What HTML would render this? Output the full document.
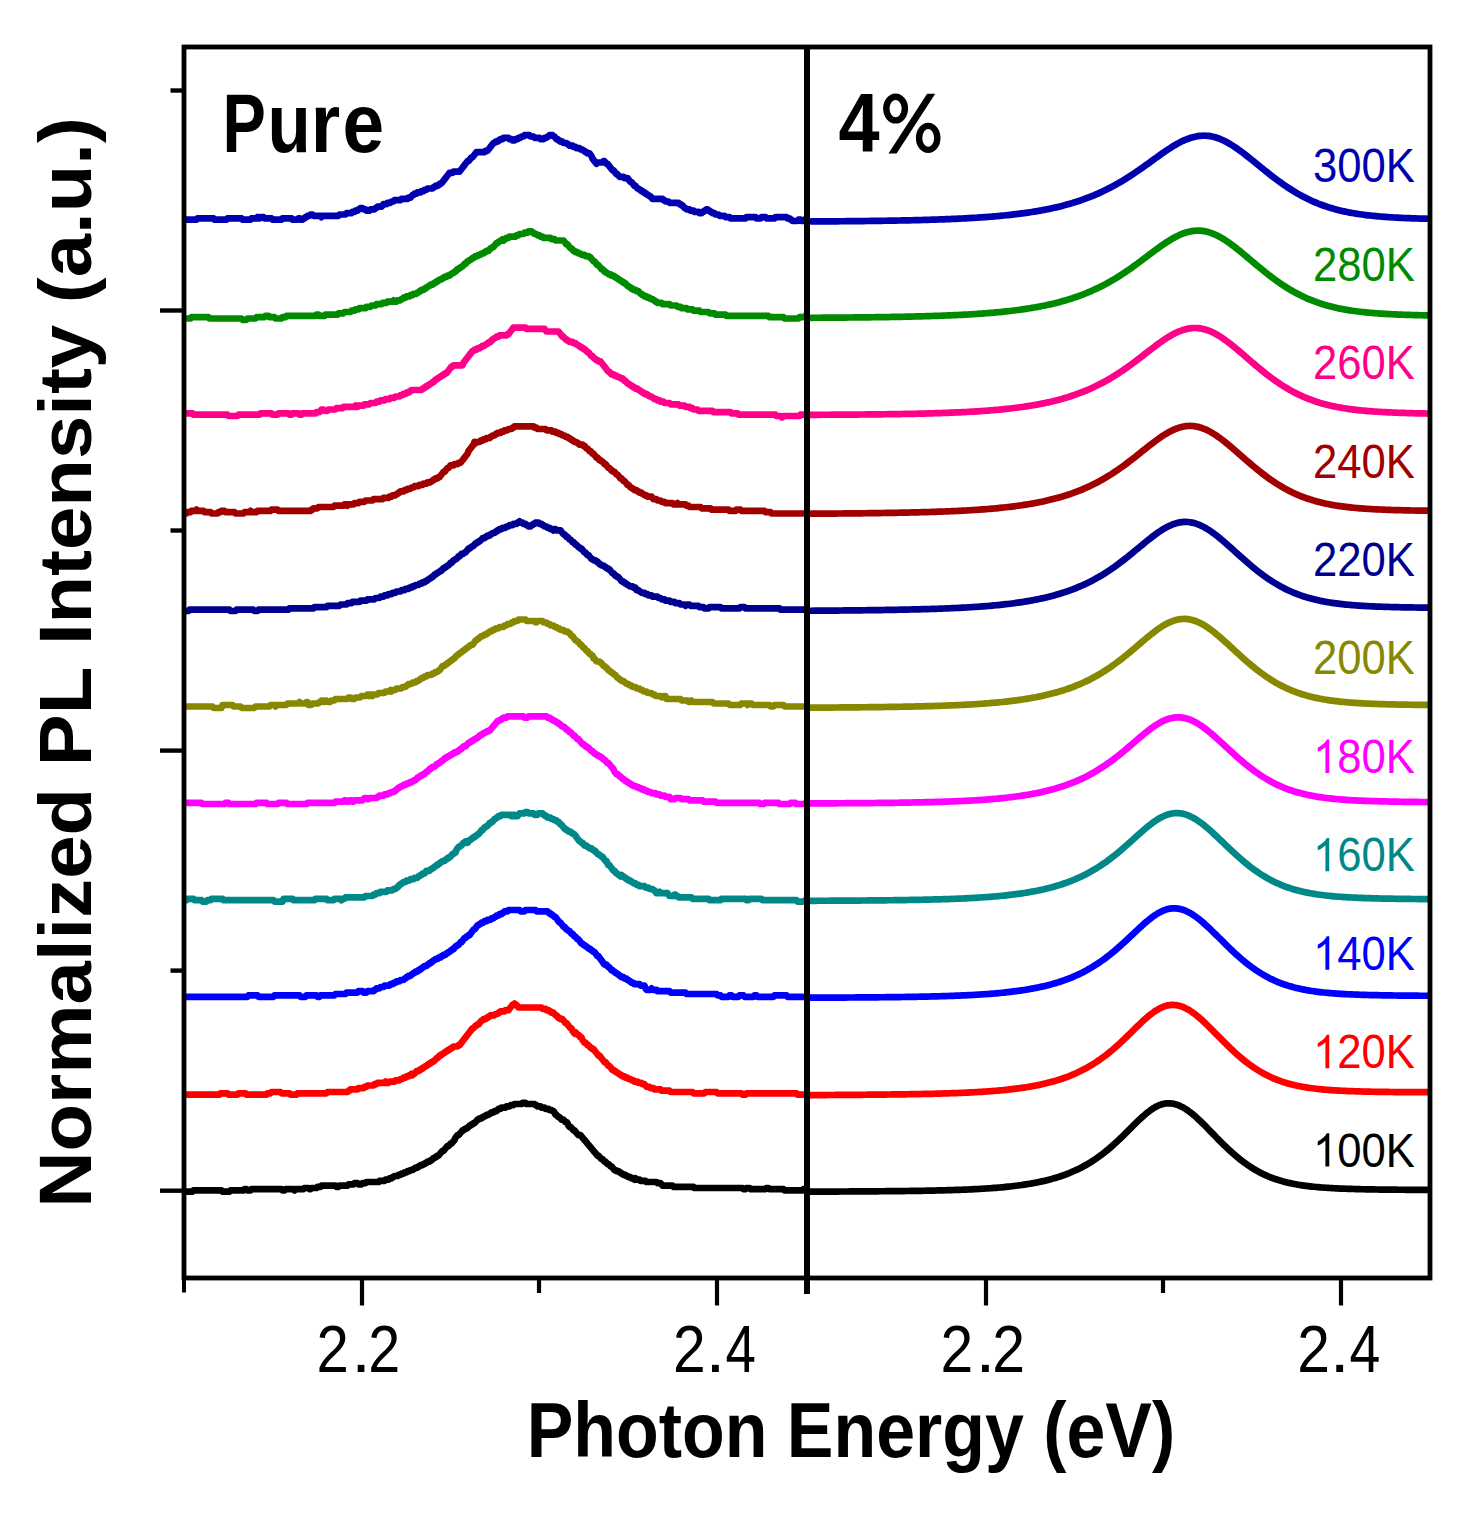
<!DOCTYPE html><html><head><meta charset="utf-8"><style>html,body{margin:0;padding:0;background:#fff;width:1472px;height:1516px;overflow:hidden}svg{display:block;font-kerning:none}text{font-family:"Liberation Sans",sans-serif}</style></head><body><div id="w"><svg width="1472" height="1516" viewBox="0 0 1472 1516"><rect width="1472" height="1516" fill="#fff"/><path d="M184.0,219.70L196.5,219.70L197.5,218.40L213.5,218.40L214.5,219.70L226.5,219.70L227.5,218.40L241.5,218.40L242.5,219.70L250.5,219.70L251.5,218.40L256.5,218.40L257.5,217.10L257.5,217.10L258.5,218.40L259.5,218.40L260.5,217.10L263.5,217.10L264.5,218.40L271.5,218.40L272.5,219.70L281.5,219.70L282.5,218.40L291.5,218.40L292.5,219.70L297.5,219.70L298.5,218.40L299.5,218.40L300.5,219.70L302.5,219.70L303.5,218.40L304.5,218.40L305.5,217.10L306.5,217.10L307.5,215.80L309.5,215.80L310.5,214.50L312.5,214.50L313.5,215.80L320.5,215.80L321.5,217.10L321.5,217.10L322.5,215.80L338.5,215.80L339.5,214.50L345.5,214.50L346.5,213.20L351.5,213.20L352.5,211.90L354.5,211.90L355.5,210.60L357.5,210.60L358.5,209.30L359.5,209.30L360.5,208.00L362.5,208.00L363.5,209.30L365.5,209.30L366.5,210.60L369.5,210.60L370.5,209.30L374.5,209.30L375.5,208.00L376.5,208.00L377.5,206.70L381.5,206.70L382.5,205.40L382.5,205.40L383.5,204.10L386.5,204.10L387.5,202.80L390.5,202.80L391.5,201.50L393.5,201.50L394.5,200.20L400.5,200.20L401.5,198.90L407.5,198.90L408.5,197.60L410.5,197.60L411.5,196.30L411.5,196.30L412.5,195.00L413.5,195.00L414.5,193.70L416.5,193.70L417.5,192.40L420.5,192.40L421.5,191.10L423.5,191.10L424.5,189.80L426.5,189.80L427.5,188.50L432.5,188.50L433.5,187.20L434.5,187.20L435.5,185.90L437.5,185.90L438.5,184.60L439.5,184.60L440.5,183.30L441.5,183.30L442.5,182.00L442.5,182.00L443.5,180.70L443.5,180.70L444.5,179.40L444.5,179.40L445.5,178.10L445.5,178.10L446.5,176.80L446.5,176.80L447.5,175.50L447.5,175.50L448.5,174.20L448.5,174.20L449.5,172.90L452.5,172.90L453.5,171.60L459.5,171.60L460.5,170.30L460.5,170.30L461.5,169.00L461.5,169.00L462.5,167.70L462.5,167.70L463.5,166.40L463.5,166.40L464.5,165.10L464.5,165.10L465.5,163.80L465.5,163.80L466.5,162.50L466.5,162.50L467.5,161.20L468.5,161.20L469.5,159.90L469.5,159.90L470.5,158.60L470.5,158.60L471.5,157.30L472.5,157.30L473.5,156.00L473.5,156.00L474.5,154.70L474.5,154.70L475.5,153.40L475.5,153.40L476.5,152.10L484.5,152.10L485.5,150.80L487.5,150.80L488.5,149.50L488.5,149.50L489.5,148.20L489.5,148.20L490.5,146.90L490.5,146.90L491.5,145.60L491.5,145.60L492.5,144.30L492.5,144.30L493.5,143.00L494.5,143.00L495.5,141.70L497.5,141.70L498.5,140.40L499.5,140.40L500.5,139.10L502.5,139.10L503.5,137.80L508.5,137.80L509.5,139.10L511.5,139.10L512.5,140.40L514.5,140.40L515.5,139.10L517.5,139.10L518.5,137.80L520.5,137.80L521.5,136.50L523.5,136.50L524.5,135.20L529.5,135.20L530.5,136.50L533.5,136.50L534.5,137.80L539.5,137.80L540.5,139.10L543.5,139.10L544.5,137.80L546.5,137.80L547.5,136.50L548.5,136.50L549.5,135.20L552.5,135.20L553.5,136.50L554.5,136.50L555.5,137.80L555.5,137.80L556.5,139.10L557.5,139.10L558.5,140.40L559.5,140.40L560.5,141.70L562.5,141.70L563.5,143.00L566.5,143.00L567.5,144.30L568.5,144.30L569.5,145.60L572.5,145.60L573.5,146.90L575.5,146.90L576.5,148.20L579.5,148.20L580.5,149.50L582.5,149.50L583.5,150.80L584.5,150.80L585.5,152.10L586.5,152.10L587.5,153.40L589.5,153.40L590.5,154.70L590.5,154.70L591.5,156.00L591.5,156.00L592.5,158.60L592.5,158.60L593.5,159.90L593.5,159.90L594.5,161.20L594.5,161.20L595.5,162.50L595.5,162.50L596.5,163.80L596.5,163.80L597.5,162.50L602.5,162.50L603.5,161.20L604.5,161.20L605.5,162.50L605.5,162.50L606.5,163.80L607.5,163.80L608.5,165.10L608.5,165.10L609.5,166.40L609.5,166.40L610.5,167.70L610.5,167.70L611.5,169.00L611.5,169.00L612.5,170.30L613.5,170.30L614.5,171.60L614.5,171.60L615.5,172.90L615.5,172.90L616.5,174.20L617.5,174.20L618.5,175.50L618.5,175.50L619.5,176.80L623.5,176.80L624.5,178.10L627.5,178.10L628.5,179.40L628.5,179.40L629.5,180.70L629.5,180.70L630.5,182.00L631.5,182.00L632.5,183.30L632.5,183.30L633.5,184.60L633.5,184.60L634.5,185.90L635.5,185.90L636.5,187.20L636.5,187.20L637.5,188.50L638.5,188.50L639.5,189.80L640.5,189.80L641.5,191.10L642.5,191.10L643.5,192.40L644.5,192.40L645.5,193.70L646.5,193.70L647.5,195.00L648.5,195.00L649.5,196.30L650.5,196.30L651.5,197.60L651.5,197.60L652.5,198.90L662.5,198.90L663.5,200.20L664.5,200.20L665.5,201.50L668.5,201.50L669.5,202.80L678.5,202.80L679.5,204.10L680.5,204.10L681.5,205.40L682.5,205.40L683.5,206.70L683.5,206.70L684.5,208.00L685.5,208.00L686.5,209.30L689.5,209.30L690.5,210.60L693.5,210.60L694.5,211.90L698.5,211.90L699.5,213.20L701.5,213.20L702.5,211.90L703.5,211.90L704.5,210.60L705.5,210.60L706.5,209.30L707.5,209.30L708.5,210.60L709.5,210.60L710.5,211.90L711.5,211.90L712.5,213.20L714.5,213.20L715.5,214.50L718.5,214.50L719.5,215.80L724.5,215.80L725.5,217.10L729.5,217.10L730.5,218.40L745.5,218.40L746.5,217.10L755.5,217.10L756.5,218.40L760.5,218.40L761.5,217.10L765.5,217.10L766.5,218.40L774.5,218.40L775.5,217.10L786.5,217.10L787.5,218.40L789.5,218.40L790.5,219.70L791.5,219.70L792.5,221.00L797.5,221.00L798.5,219.70L800.5,219.70L801.5,221.00L803.5,221.00L804.5,219.70L806.0,219.70" fill="none" stroke="#0000B0" stroke-width="6.7" stroke-linejoin="round"/><path d="M808.0,221.49 810.0,221.48 812.0,221.47 814.0,221.46 816.0,221.44 818.0,221.43 820.0,221.42 822.0,221.40 824.0,221.39 826.0,221.38 828.0,221.36 830.0,221.35 832.0,221.33 834.0,221.31 836.0,221.30 838.0,221.28 840.0,221.26 842.0,221.25 844.0,221.23 846.0,221.21 848.0,221.19 850.0,221.17 852.0,221.15 854.0,221.13 856.0,221.11 858.0,221.09 860.0,221.07 862.0,221.05 864.0,221.03 866.0,221.00 868.0,220.98 870.0,220.95 872.0,220.93 874.0,220.90 876.0,220.87 878.0,220.85 880.0,220.82 882.0,220.79 884.0,220.76 886.0,220.73 888.0,220.70 890.0,220.66 892.0,220.63 894.0,220.60 896.0,220.56 898.0,220.52 900.0,220.49 902.0,220.45 904.0,220.41 906.0,220.37 908.0,220.32 910.0,220.28 912.0,220.23 914.0,220.19 916.0,220.14 918.0,220.09 920.0,220.04 922.0,219.99 924.0,219.93 926.0,219.88 928.0,219.82 930.0,219.76 932.0,219.70 934.0,219.64 936.0,219.57 938.0,219.50 940.0,219.43 942.0,219.36 944.0,219.29 946.0,219.21 948.0,219.13 950.0,219.05 952.0,218.97 954.0,218.88 956.0,218.79 958.0,218.70 960.0,218.60 962.0,218.51 964.0,218.40 966.0,218.30 968.0,218.19 970.0,218.08 972.0,217.96 974.0,217.84 976.0,217.72 978.0,217.59 980.0,217.46 982.0,217.32 984.0,217.18 986.0,217.04 988.0,216.89 990.0,216.73 992.0,216.57 994.0,216.41 996.0,216.24 998.0,216.06 1000.0,215.88 1002.0,215.69 1004.0,215.49 1006.0,215.29 1008.0,215.08 1010.0,214.87 1012.0,214.65 1014.0,214.42 1016.0,214.18 1018.0,213.93 1020.0,213.68 1022.0,213.42 1024.0,213.15 1026.0,212.87 1028.0,212.58 1030.0,212.28 1032.0,211.97 1034.0,211.65 1036.0,211.32 1038.0,210.98 1040.0,210.63 1042.0,210.26 1044.0,209.89 1046.0,209.50 1048.0,209.10 1050.0,208.68 1052.0,208.26 1054.0,207.81 1056.0,207.36 1058.0,206.89 1060.0,206.40 1062.0,205.90 1064.0,205.38 1066.0,204.84 1068.0,204.29 1070.0,203.71 1072.0,203.13 1074.0,202.52 1076.0,201.89 1078.0,201.24 1080.0,200.57 1082.0,199.89 1084.0,199.18 1086.0,198.44 1088.0,197.69 1090.0,196.91 1092.0,196.11 1094.0,195.29 1096.0,194.44 1098.0,193.57 1100.0,192.67 1102.0,191.75 1104.0,190.80 1106.0,189.82 1108.0,188.82 1110.0,187.80 1112.0,186.74 1114.0,185.66 1116.0,184.56 1118.0,183.42 1120.0,182.26 1122.0,181.08 1124.0,179.86 1126.0,178.63 1128.0,177.36 1130.0,176.08 1132.0,174.77 1134.0,173.44 1136.0,172.09 1138.0,170.72 1140.0,169.33 1142.0,167.93 1144.0,166.51 1146.0,165.08 1148.0,163.65 1150.0,162.20 1152.0,160.76 1154.0,159.31 1156.0,157.86 1158.0,156.43 1160.0,155.00 1162.0,153.59 1164.0,152.20 1166.0,150.83 1168.0,149.49 1170.0,148.19 1172.0,146.92 1174.0,145.70 1176.0,144.52 1178.0,143.40 1180.0,142.34 1182.0,141.34 1184.0,140.40 1186.0,139.54 1188.0,138.76 1190.0,138.06 1192.0,137.44 1194.0,136.92 1196.0,136.48 1198.0,136.14 1200.0,135.89 1202.0,135.74 1204.0,135.68 1206.0,135.73 1208.0,135.88 1210.0,136.14 1212.0,136.51 1214.0,136.97 1216.0,137.54 1218.0,138.20 1220.0,138.96 1222.0,139.81 1224.0,140.74 1226.0,141.75 1228.0,142.84 1230.0,144.00 1232.0,145.23 1234.0,146.51 1236.0,147.86 1238.0,149.25 1240.0,150.69 1242.0,152.17 1244.0,153.69 1246.0,155.24 1248.0,156.81 1250.0,158.40 1252.0,160.00 1254.0,161.62 1256.0,163.25 1258.0,164.88 1260.0,166.51 1262.0,168.13 1264.0,169.75 1266.0,171.35 1268.0,172.95 1270.0,174.52 1272.0,176.08 1274.0,177.61 1276.0,179.12 1278.0,180.61 1280.0,182.07 1282.0,183.50 1284.0,184.90 1286.0,186.27 1288.0,187.61 1290.0,188.91 1292.0,190.18 1294.0,191.42 1296.0,192.62 1298.0,193.78 1300.0,194.91 1302.0,196.00 1304.0,197.06 1306.0,198.08 1308.0,199.07 1310.0,200.02 1312.0,200.93 1314.0,201.82 1316.0,202.66 1318.0,203.48 1320.0,204.26 1322.0,205.01 1324.0,205.73 1326.0,206.42 1328.0,207.08 1330.0,207.70 1332.0,208.31 1334.0,208.88 1336.0,209.43 1338.0,209.95 1340.0,210.45 1342.0,210.92 1344.0,211.37 1346.0,211.80 1348.0,212.21 1350.0,212.59 1352.0,212.96 1354.0,213.31 1356.0,213.64 1358.0,213.95 1360.0,214.25 1362.0,214.53 1364.0,214.80 1366.0,215.06 1368.0,215.30 1370.0,215.52 1372.0,215.74 1374.0,215.94 1376.0,216.14 1378.0,216.32 1380.0,216.49 1382.0,216.66 1384.0,216.81 1386.0,216.96 1388.0,217.10 1390.0,217.23 1392.0,217.35 1394.0,217.47 1396.0,217.59 1398.0,217.69 1400.0,217.79 1402.0,217.89 1404.0,217.98 1406.0,218.07 1408.0,218.15 1410.0,218.22 1412.0,218.30 1414.0,218.37 1416.0,218.44 1418.0,218.50 1420.0,218.56 1422.0,218.62 1424.0,218.67 1426.0,218.72 1428.0,218.77 1430.0,218.82" fill="none" stroke="#0000B0" stroke-width="6.7" stroke-linejoin="round"/><path d="M184.0,318.50L190.5,318.50L191.5,317.20L208.5,317.20L209.5,318.50L241.5,318.50L242.5,319.80L246.5,319.80L247.5,318.50L255.5,318.50L256.5,317.20L264.5,317.20L265.5,315.90L268.5,315.90L269.5,317.20L274.5,317.20L275.5,318.50L281.5,318.50L282.5,317.20L285.5,317.20L286.5,315.90L315.5,315.90L316.5,314.60L318.5,314.60L319.5,315.90L324.5,315.90L325.5,314.60L337.5,314.60L338.5,313.30L343.5,313.30L344.5,312.00L350.5,312.00L351.5,310.70L354.5,310.70L355.5,309.40L358.5,309.40L359.5,308.10L365.5,308.10L366.5,306.80L370.5,306.80L371.5,305.50L375.5,305.50L376.5,304.20L381.5,304.20L382.5,302.90L386.5,302.90L387.5,301.60L392.5,301.60L393.5,300.30L393.5,300.30L394.5,301.60L396.5,301.60L397.5,300.30L400.5,300.30L401.5,299.00L402.5,299.00L403.5,297.70L405.5,297.70L406.5,296.40L409.5,296.40L410.5,295.10L412.5,295.10L413.5,293.80L416.5,293.80L417.5,292.50L418.5,292.50L419.5,291.20L420.5,291.20L421.5,289.90L423.5,289.90L424.5,288.60L425.5,288.60L426.5,287.30L427.5,287.30L428.5,286.00L429.5,286.00L430.5,284.70L432.5,284.70L433.5,283.40L434.5,283.40L435.5,282.10L436.5,282.10L437.5,280.80L438.5,280.80L439.5,279.50L441.5,279.50L442.5,278.20L443.5,278.20L444.5,276.90L446.5,276.90L447.5,275.60L449.5,275.60L450.5,274.30L451.5,274.30L452.5,273.00L453.5,273.00L454.5,271.70L455.5,271.70L456.5,270.40L456.5,270.40L457.5,269.10L458.5,269.10L459.5,267.80L460.5,267.80L461.5,266.50L462.5,266.50L463.5,265.20L463.5,265.20L464.5,263.90L465.5,263.90L466.5,262.60L466.5,262.60L467.5,261.30L468.5,261.30L469.5,260.00L470.5,260.00L471.5,258.70L472.5,258.70L473.5,257.40L474.5,257.40L475.5,256.10L477.5,256.10L478.5,254.80L480.5,254.80L481.5,253.50L483.5,253.50L484.5,252.20L485.5,252.20L486.5,250.90L488.5,250.90L489.5,249.60L489.5,249.60L490.5,248.30L491.5,248.30L492.5,247.00L493.5,247.00L494.5,245.70L494.5,245.70L495.5,244.40L495.5,244.40L496.5,243.10L497.5,243.10L498.5,241.80L499.5,241.80L500.5,240.50L501.5,240.50L502.5,239.20L502.5,239.20L503.5,240.50L503.5,240.50L504.5,239.20L505.5,239.20L506.5,237.90L508.5,237.90L509.5,236.60L515.5,236.60L516.5,235.30L518.5,235.30L519.5,234.00L523.5,234.00L524.5,232.70L527.5,232.70L528.5,231.40L531.5,231.40L532.5,232.70L533.5,232.70L534.5,234.00L536.5,234.00L537.5,235.30L539.5,235.30L540.5,236.60L542.5,236.60L543.5,237.90L550.5,237.90L551.5,239.20L554.5,239.20L555.5,240.50L563.5,240.50L564.5,241.80L564.5,241.80L565.5,243.10L565.5,243.10L566.5,244.40L567.5,244.40L568.5,245.70L568.5,245.70L569.5,247.00L569.5,247.00L570.5,248.30L571.5,248.30L572.5,249.60L572.5,249.60L573.5,250.90L574.5,250.90L575.5,252.20L577.5,252.20L578.5,253.50L580.5,253.50L581.5,254.80L584.5,254.80L585.5,256.10L588.5,256.10L589.5,257.40L590.5,257.40L591.5,258.70L591.5,258.70L592.5,260.00L592.5,260.00L593.5,261.30L594.5,261.30L595.5,262.60L595.5,262.60L596.5,263.90L596.5,263.90L597.5,265.20L598.5,265.20L599.5,266.50L599.5,266.50L600.5,267.80L600.5,267.80L601.5,269.10L602.5,269.10L603.5,270.40L603.5,270.40L604.5,271.70L605.5,271.70L606.5,273.00L607.5,273.00L608.5,274.30L610.5,274.30L611.5,275.60L613.5,275.60L614.5,276.90L615.5,276.90L616.5,278.20L617.5,278.20L618.5,279.50L619.5,279.50L620.5,280.80L621.5,280.80L622.5,282.10L623.5,282.10L624.5,283.40L625.5,283.40L626.5,284.70L626.5,284.70L627.5,286.00L628.5,286.00L629.5,287.30L630.5,287.30L631.5,288.60L632.5,288.60L633.5,289.90L635.5,289.90L636.5,291.20L638.5,291.20L639.5,292.50L639.5,292.50L640.5,293.80L641.5,293.80L642.5,295.10L643.5,295.10L644.5,296.40L646.5,296.40L647.5,297.70L649.5,297.70L650.5,299.00L652.5,299.00L653.5,300.30L654.5,300.30L655.5,301.60L656.5,301.60L657.5,302.90L661.5,302.90L662.5,304.20L669.5,304.20L670.5,305.50L676.5,305.50L677.5,306.80L680.5,306.80L681.5,308.10L686.5,308.10L687.5,309.40L692.5,309.40L693.5,310.70L699.5,310.70L700.5,312.00L708.5,312.00L709.5,313.30L714.5,313.30L715.5,314.60L725.5,314.60L726.5,315.90L768.5,315.90L769.5,317.20L783.5,317.20L784.5,318.50L798.5,318.50L799.5,317.20L804.5,317.20L805.5,315.90L806.0,315.90" fill="none" stroke="#008A00" stroke-width="6.7" stroke-linejoin="round"/><path d="M808.0,317.81 810.0,317.79 812.0,317.78 814.0,317.77 816.0,317.76 818.0,317.75 820.0,317.73 822.0,317.72 824.0,317.71 826.0,317.69 828.0,317.68 830.0,317.66 832.0,317.65 834.0,317.63 836.0,317.62 838.0,317.60 840.0,317.58 842.0,317.57 844.0,317.55 846.0,317.53 848.0,317.51 850.0,317.50 852.0,317.48 854.0,317.46 856.0,317.44 858.0,317.42 860.0,317.39 862.0,317.37 864.0,317.35 866.0,317.33 868.0,317.30 870.0,317.28 872.0,317.25 874.0,317.23 876.0,317.20 878.0,317.17 880.0,317.15 882.0,317.12 884.0,317.09 886.0,317.06 888.0,317.03 890.0,316.99 892.0,316.96 894.0,316.93 896.0,316.89 898.0,316.85 900.0,316.82 902.0,316.78 904.0,316.74 906.0,316.69 908.0,316.65 910.0,316.61 912.0,316.56 914.0,316.52 916.0,316.47 918.0,316.42 920.0,316.37 922.0,316.31 924.0,316.26 926.0,316.20 928.0,316.14 930.0,316.08 932.0,316.02 934.0,315.96 936.0,315.89 938.0,315.82 940.0,315.75 942.0,315.68 944.0,315.60 946.0,315.52 948.0,315.44 950.0,315.36 952.0,315.27 954.0,315.18 956.0,315.09 958.0,314.99 960.0,314.90 962.0,314.79 964.0,314.69 966.0,314.58 968.0,314.47 970.0,314.35 972.0,314.23 974.0,314.11 976.0,313.98 978.0,313.85 980.0,313.71 982.0,313.57 984.0,313.42 986.0,313.27 988.0,313.11 990.0,312.95 992.0,312.78 994.0,312.61 996.0,312.43 998.0,312.24 1000.0,312.05 1002.0,311.85 1004.0,311.64 1006.0,311.43 1008.0,311.21 1010.0,310.98 1012.0,310.75 1014.0,310.50 1016.0,310.25 1018.0,309.99 1020.0,309.72 1022.0,309.44 1024.0,309.15 1026.0,308.85 1028.0,308.55 1030.0,308.23 1032.0,307.90 1034.0,307.55 1036.0,307.20 1038.0,306.84 1040.0,306.46 1042.0,306.07 1044.0,305.66 1046.0,305.24 1048.0,304.81 1050.0,304.37 1052.0,303.90 1054.0,303.43 1056.0,302.93 1058.0,302.42 1060.0,301.90 1062.0,301.35 1064.0,300.79 1066.0,300.21 1068.0,299.61 1070.0,298.99 1072.0,298.35 1074.0,297.68 1076.0,297.00 1078.0,296.30 1080.0,295.57 1082.0,294.82 1084.0,294.04 1086.0,293.25 1088.0,292.42 1090.0,291.58 1092.0,290.70 1094.0,289.80 1096.0,288.88 1098.0,287.92 1100.0,286.94 1102.0,285.93 1104.0,284.90 1106.0,283.83 1108.0,282.74 1110.0,281.62 1112.0,280.46 1114.0,279.29 1116.0,278.08 1118.0,276.84 1120.0,275.58 1122.0,274.29 1124.0,272.98 1126.0,271.63 1128.0,270.27 1130.0,268.88 1132.0,267.47 1134.0,266.04 1136.0,264.59 1138.0,263.12 1140.0,261.64 1142.0,260.15 1144.0,258.65 1146.0,257.14 1148.0,255.63 1150.0,254.12 1152.0,252.62 1154.0,251.12 1156.0,249.64 1158.0,248.18 1160.0,246.74 1162.0,245.33 1164.0,243.95 1166.0,242.61 1168.0,241.32 1170.0,240.07 1172.0,238.88 1174.0,237.75 1176.0,236.69 1178.0,235.70 1180.0,234.78 1182.0,233.95 1184.0,233.20 1186.0,232.54 1188.0,231.98 1190.0,231.51 1192.0,231.14 1194.0,230.88 1196.0,230.72 1198.0,230.66 1200.0,230.71 1202.0,230.87 1204.0,231.15 1206.0,231.53 1208.0,232.03 1210.0,232.62 1212.0,233.32 1214.0,234.12 1216.0,235.01 1218.0,235.99 1220.0,237.06 1222.0,238.20 1224.0,239.42 1226.0,240.71 1228.0,242.06 1230.0,243.47 1232.0,244.93 1234.0,246.44 1236.0,247.98 1238.0,249.57 1240.0,251.18 1242.0,252.81 1244.0,254.47 1246.0,256.14 1248.0,257.82 1250.0,259.51 1252.0,261.20 1254.0,262.88 1256.0,264.56 1258.0,266.23 1260.0,267.89 1262.0,269.53 1264.0,271.15 1266.0,272.75 1268.0,274.32 1270.0,275.87 1272.0,277.39 1274.0,278.88 1276.0,280.34 1278.0,281.77 1280.0,283.16 1282.0,284.52 1284.0,285.84 1286.0,287.13 1288.0,288.38 1290.0,289.59 1292.0,290.76 1294.0,291.90 1296.0,293.00 1298.0,294.06 1300.0,295.08 1302.0,296.07 1304.0,297.02 1306.0,297.93 1308.0,298.81 1310.0,299.65 1312.0,300.46 1314.0,301.23 1316.0,301.97 1318.0,302.68 1320.0,303.36 1322.0,304.01 1324.0,304.63 1326.0,305.22 1328.0,305.78 1330.0,306.31 1332.0,306.82 1334.0,307.31 1336.0,307.77 1338.0,308.20 1340.0,308.62 1342.0,309.01 1344.0,309.39 1346.0,309.74 1348.0,310.08 1350.0,310.40 1352.0,310.70 1354.0,310.98 1356.0,311.25 1358.0,311.51 1360.0,311.75 1362.0,311.98 1364.0,312.20 1366.0,312.40 1368.0,312.60 1370.0,312.78 1372.0,312.95 1374.0,313.12 1376.0,313.27 1378.0,313.42 1380.0,313.56 1382.0,313.69 1384.0,313.82 1386.0,313.94 1388.0,314.05 1390.0,314.15 1392.0,314.25 1394.0,314.35 1396.0,314.44 1398.0,314.53 1400.0,314.61 1402.0,314.68 1404.0,314.76 1406.0,314.83 1408.0,314.89 1410.0,314.96 1412.0,315.02 1414.0,315.07 1416.0,315.13 1418.0,315.18 1420.0,315.23 1422.0,315.27 1424.0,315.32 1426.0,315.36 1428.0,315.40 1430.0,315.44" fill="none" stroke="#008A00" stroke-width="6.7" stroke-linejoin="round"/><path d="M184.0,413.40L192.5,413.40L193.5,414.70L227.5,414.70L228.5,416.00L237.5,416.00L238.5,414.70L259.5,414.70L260.5,413.40L271.5,413.40L272.5,414.70L277.5,414.70L278.5,413.40L288.5,413.40L289.5,414.70L291.5,414.70L292.5,413.40L298.5,413.40L299.5,414.70L301.5,414.70L302.5,413.40L315.5,413.40L316.5,412.10L319.5,412.10L320.5,410.80L320.5,410.80L321.5,409.50L323.5,409.50L324.5,410.80L327.5,410.80L328.5,409.50L335.5,409.50L336.5,408.20L342.5,408.20L343.5,406.90L354.5,406.90L355.5,405.60L355.5,405.60L356.5,406.90L357.5,406.90L358.5,405.60L363.5,405.60L364.5,404.30L369.5,404.30L370.5,403.00L375.5,403.00L376.5,401.70L379.5,401.70L380.5,400.40L384.5,400.40L385.5,399.10L389.5,399.10L390.5,397.80L394.5,397.80L395.5,396.50L399.5,396.50L400.5,395.20L402.5,395.20L403.5,393.90L405.5,393.90L406.5,392.60L408.5,392.60L409.5,391.30L410.5,391.30L411.5,390.00L421.5,390.00L422.5,388.70L423.5,388.70L424.5,387.40L425.5,387.40L426.5,386.10L427.5,386.10L428.5,384.80L429.5,384.80L430.5,383.50L431.5,383.50L432.5,382.20L433.5,382.20L434.5,380.90L434.5,380.90L435.5,379.60L436.5,379.60L437.5,378.30L438.5,378.30L439.5,377.00L440.5,377.00L441.5,375.70L442.5,375.70L443.5,374.40L444.5,374.40L445.5,373.10L446.5,373.10L447.5,371.80L447.5,371.80L448.5,370.50L448.5,370.50L449.5,369.20L449.5,369.20L450.5,367.90L450.5,367.90L451.5,366.60L452.5,366.60L453.5,365.30L462.5,365.30L463.5,362.70L463.5,362.70L464.5,361.40L464.5,361.40L465.5,360.10L465.5,360.10L466.5,358.80L466.5,358.80L467.5,357.50L467.5,357.50L468.5,356.20L468.5,356.20L469.5,354.90L469.5,354.90L470.5,353.60L470.5,353.60L471.5,352.30L471.5,352.30L472.5,351.00L473.5,351.00L474.5,349.70L476.5,349.70L477.5,348.40L479.5,348.40L480.5,347.10L481.5,347.10L482.5,345.80L484.5,345.80L485.5,344.50L486.5,344.50L487.5,343.20L488.5,343.20L489.5,341.90L490.5,341.90L491.5,340.60L491.5,340.60L492.5,339.30L493.5,339.30L494.5,338.00L495.5,338.00L496.5,336.70L498.5,336.70L499.5,335.40L506.5,335.40L507.5,334.10L508.5,334.10L509.5,332.80L509.5,332.80L510.5,331.50L510.5,331.50L511.5,330.20L511.5,330.20L512.5,328.90L512.5,328.90L513.5,327.60L525.5,327.60L526.5,328.90L544.5,328.90L545.5,330.20L545.5,330.20L546.5,331.50L558.5,331.50L559.5,332.80L559.5,332.80L560.5,334.10L560.5,334.10L561.5,335.40L561.5,335.40L562.5,336.70L563.5,336.70L564.5,338.00L564.5,338.00L565.5,339.30L566.5,339.30L567.5,340.60L568.5,340.60L569.5,341.90L572.5,341.90L573.5,343.20L575.5,343.20L576.5,344.50L577.5,344.50L578.5,345.80L579.5,345.80L580.5,347.10L581.5,347.10L582.5,348.40L583.5,348.40L584.5,349.70L585.5,349.70L586.5,351.00L586.5,351.00L587.5,352.30L588.5,352.30L589.5,353.60L589.5,353.60L590.5,354.90L590.5,354.90L591.5,356.20L592.5,356.20L593.5,357.50L593.5,357.50L594.5,358.80L595.5,358.80L596.5,360.10L597.5,360.10L598.5,361.40L600.5,361.40L601.5,362.70L601.5,362.70L602.5,364.00L602.5,364.00L603.5,365.30L603.5,365.30L604.5,366.60L604.5,366.60L605.5,367.90L605.5,367.90L606.5,369.20L606.5,369.20L607.5,370.50L607.5,370.50L608.5,371.80L609.5,371.80L610.5,373.10L610.5,373.10L611.5,374.40L613.5,374.40L614.5,375.70L616.5,375.70L617.5,377.00L619.5,377.00L620.5,378.30L622.5,378.30L623.5,379.60L623.5,379.60L624.5,380.90L625.5,380.90L626.5,382.20L626.5,382.20L627.5,383.50L628.5,383.50L629.5,384.80L630.5,384.80L631.5,386.10L632.5,386.10L633.5,387.40L634.5,387.40L635.5,388.70L637.5,388.70L638.5,390.00L639.5,390.00L640.5,391.30L641.5,391.30L642.5,392.60L643.5,392.60L644.5,393.90L646.5,393.90L647.5,395.20L648.5,395.20L649.5,396.50L651.5,396.50L652.5,397.80L653.5,397.80L654.5,399.10L656.5,399.10L657.5,400.40L659.5,400.40L660.5,401.70L663.5,401.70L664.5,403.00L669.5,403.00L670.5,404.30L678.5,404.30L679.5,405.60L684.5,405.60L685.5,406.90L689.5,406.90L690.5,408.20L692.5,408.20L693.5,409.50L697.5,409.50L698.5,410.80L712.5,410.80L713.5,412.10L730.5,412.10L731.5,413.40L737.5,413.40L738.5,414.70L775.5,414.70L776.5,416.00L780.5,416.00L781.5,417.30L782.5,417.30L783.5,416.00L799.5,416.00L800.5,414.70L806.0,414.70" fill="none" stroke="#FF0088" stroke-width="6.7" stroke-linejoin="round"/><path d="M808.0,414.83 810.0,414.82 812.0,414.81 814.0,414.80 816.0,414.80 818.0,414.79 820.0,414.78 822.0,414.77 824.0,414.76 826.0,414.75 828.0,414.74 830.0,414.73 832.0,414.72 834.0,414.71 836.0,414.70 838.0,414.68 840.0,414.67 842.0,414.66 844.0,414.65 846.0,414.63 848.0,414.62 850.0,414.60 852.0,414.59 854.0,414.57 856.0,414.56 858.0,414.54 860.0,414.52 862.0,414.51 864.0,414.49 866.0,414.47 868.0,414.45 870.0,414.43 872.0,414.41 874.0,414.39 876.0,414.37 878.0,414.35 880.0,414.32 882.0,414.30 884.0,414.27 886.0,414.25 888.0,414.22 890.0,414.19 892.0,414.16 894.0,414.14 896.0,414.10 898.0,414.07 900.0,414.04 902.0,414.01 904.0,413.97 906.0,413.93 908.0,413.90 910.0,413.86 912.0,413.82 914.0,413.78 916.0,413.73 918.0,413.69 920.0,413.64 922.0,413.60 924.0,413.55 926.0,413.49 928.0,413.44 930.0,413.39 932.0,413.33 934.0,413.27 936.0,413.21 938.0,413.15 940.0,413.08 942.0,413.01 944.0,412.94 946.0,412.87 948.0,412.80 950.0,412.72 952.0,412.64 954.0,412.56 956.0,412.47 958.0,412.38 960.0,412.29 962.0,412.19 964.0,412.09 966.0,411.99 968.0,411.88 970.0,411.77 972.0,411.66 974.0,411.54 976.0,411.42 978.0,411.29 980.0,411.16 982.0,411.02 984.0,410.88 986.0,410.73 988.0,410.58 990.0,410.42 992.0,410.26 994.0,410.09 996.0,409.92 998.0,409.74 1000.0,409.55 1002.0,409.36 1004.0,409.16 1006.0,408.95 1008.0,408.73 1010.0,408.51 1012.0,408.28 1014.0,408.04 1016.0,407.79 1018.0,407.53 1020.0,407.26 1022.0,406.99 1024.0,406.70 1026.0,406.41 1028.0,406.10 1030.0,405.78 1032.0,405.45 1034.0,405.11 1036.0,404.76 1038.0,404.39 1040.0,404.02 1042.0,403.63 1044.0,403.22 1046.0,402.80 1048.0,402.37 1050.0,401.92 1052.0,401.45 1054.0,400.97 1056.0,400.47 1058.0,399.95 1060.0,399.42 1062.0,398.87 1064.0,398.30 1066.0,397.70 1068.0,397.09 1070.0,396.46 1072.0,395.81 1074.0,395.13 1076.0,394.44 1078.0,393.71 1080.0,392.97 1082.0,392.20 1084.0,391.41 1086.0,390.59 1088.0,389.74 1090.0,388.87 1092.0,387.97 1094.0,387.04 1096.0,386.09 1098.0,385.10 1100.0,384.09 1102.0,383.05 1104.0,381.97 1106.0,380.87 1108.0,379.74 1110.0,378.58 1112.0,377.38 1114.0,376.16 1116.0,374.91 1118.0,373.63 1120.0,372.31 1122.0,370.97 1124.0,369.61 1126.0,368.21 1128.0,366.80 1130.0,365.35 1132.0,363.89 1134.0,362.40 1136.0,360.90 1138.0,359.38 1140.0,357.85 1142.0,356.31 1144.0,354.76 1146.0,353.21 1148.0,351.66 1150.0,350.11 1152.0,348.57 1154.0,347.05 1156.0,345.55 1158.0,344.06 1160.0,342.61 1162.0,341.20 1164.0,339.82 1166.0,338.50 1168.0,337.22 1170.0,336.01 1172.0,334.86 1174.0,333.78 1176.0,332.78 1178.0,331.86 1180.0,331.03 1182.0,330.29 1184.0,329.65 1186.0,329.11 1188.0,328.67 1190.0,328.34 1192.0,328.12 1194.0,328.00 1196.0,328.00 1198.0,328.12 1200.0,328.35 1202.0,328.70 1204.0,329.16 1206.0,329.73 1208.0,330.41 1210.0,331.19 1212.0,332.07 1214.0,333.05 1216.0,334.12 1218.0,335.27 1220.0,336.50 1222.0,337.80 1224.0,339.17 1226.0,340.61 1228.0,342.09 1230.0,343.63 1232.0,345.21 1234.0,346.83 1236.0,348.48 1238.0,350.15 1240.0,351.85 1242.0,353.56 1244.0,355.28 1246.0,357.01 1248.0,358.74 1250.0,360.47 1252.0,362.19 1254.0,363.90 1256.0,365.59 1258.0,367.27 1260.0,368.93 1262.0,370.57 1264.0,372.18 1266.0,373.76 1268.0,375.31 1270.0,376.83 1272.0,378.32 1274.0,379.78 1276.0,381.19 1278.0,382.58 1280.0,383.92 1282.0,385.23 1284.0,386.49 1286.0,387.72 1288.0,388.91 1290.0,390.06 1292.0,391.17 1294.0,392.24 1296.0,393.28 1298.0,394.27 1300.0,395.23 1302.0,396.14 1304.0,397.03 1306.0,397.87 1308.0,398.68 1310.0,399.46 1312.0,400.20 1314.0,400.91 1316.0,401.58 1318.0,402.23 1320.0,402.84 1322.0,403.43 1324.0,403.98 1326.0,404.51 1328.0,405.02 1330.0,405.50 1332.0,405.95 1334.0,406.38 1336.0,406.79 1338.0,407.18 1340.0,407.55 1342.0,407.90 1344.0,408.23 1346.0,408.54 1348.0,408.84 1350.0,409.12 1352.0,409.38 1354.0,409.63 1356.0,409.87 1358.0,410.10 1360.0,410.31 1362.0,410.51 1364.0,410.70 1366.0,410.88 1368.0,411.05 1370.0,411.21 1372.0,411.36 1374.0,411.51 1376.0,411.64 1378.0,411.77 1380.0,411.89 1382.0,412.01 1384.0,412.12 1386.0,412.22 1388.0,412.32 1390.0,412.42 1392.0,412.51 1394.0,412.59 1396.0,412.67 1398.0,412.75 1400.0,412.82 1402.0,412.89 1404.0,412.96 1406.0,413.02 1408.0,413.08 1410.0,413.14 1412.0,413.19 1414.0,413.24 1416.0,413.29 1418.0,413.34 1420.0,413.38 1422.0,413.43 1424.0,413.47 1426.0,413.51 1428.0,413.55 1430.0,413.58" fill="none" stroke="#FF0088" stroke-width="6.7" stroke-linejoin="round"/><path d="M184.0,513.50L186.5,513.50L187.5,512.20L190.5,512.20L191.5,510.90L195.5,510.90L196.5,509.60L196.5,509.60L197.5,510.90L203.5,510.90L204.5,512.20L210.5,512.20L211.5,513.50L217.5,513.50L218.5,512.20L220.5,512.20L221.5,510.90L224.5,510.90L225.5,512.20L234.5,512.20L235.5,513.50L243.5,513.50L244.5,512.20L249.5,512.20L250.5,510.90L250.5,510.90L251.5,512.20L256.5,512.20L257.5,510.90L270.5,510.90L271.5,509.60L277.5,509.60L278.5,510.90L310.5,510.90L311.5,509.60L312.5,509.60L313.5,508.30L317.5,508.30L318.5,507.00L333.5,507.00L334.5,505.70L343.5,505.70L344.5,504.40L346.5,504.40L347.5,505.70L347.5,505.70L348.5,504.40L353.5,504.40L354.5,503.10L358.5,503.10L359.5,501.80L364.5,501.80L365.5,500.50L372.5,500.50L373.5,499.20L382.5,499.20L383.5,497.90L388.5,497.90L389.5,496.60L391.5,496.60L392.5,495.30L395.5,495.30L396.5,494.00L397.5,494.00L398.5,492.70L399.5,492.70L400.5,491.40L403.5,491.40L404.5,490.10L406.5,490.10L407.5,488.80L410.5,488.80L411.5,487.50L413.5,487.50L414.5,486.20L418.5,486.20L419.5,484.90L422.5,484.90L423.5,483.60L426.5,483.60L427.5,482.30L430.5,482.30L431.5,481.00L432.5,481.00L433.5,479.70L434.5,479.70L435.5,478.40L437.5,478.40L438.5,477.10L439.5,477.10L440.5,475.80L440.5,475.80L441.5,474.50L441.5,474.50L442.5,473.20L442.5,473.20L443.5,471.90L444.5,471.90L445.5,470.60L445.5,470.60L446.5,469.30L446.5,469.30L447.5,468.00L448.5,468.00L449.5,466.70L449.5,466.70L450.5,465.40L453.5,465.40L454.5,464.10L457.5,464.10L458.5,462.80L460.5,462.80L461.5,461.50L461.5,461.50L462.5,460.20L462.5,460.20L463.5,458.90L463.5,458.90L464.5,457.60L464.5,457.60L465.5,456.30L465.5,456.30L466.5,455.00L466.5,455.00L467.5,453.70L467.5,453.70L468.5,451.10L468.5,451.10L469.5,449.80L469.5,449.80L470.5,448.50L470.5,448.50L471.5,447.20L471.5,447.20L472.5,445.90L472.5,445.90L473.5,444.60L473.5,444.60L474.5,442.00L474.5,442.00L475.5,443.30L475.5,443.30L476.5,442.00L479.5,442.00L480.5,440.70L482.5,440.70L483.5,439.40L485.5,439.40L486.5,438.10L489.5,438.10L490.5,436.80L491.5,436.80L492.5,435.50L494.5,435.50L495.5,434.20L496.5,434.20L497.5,432.90L500.5,432.90L501.5,431.60L503.5,431.60L504.5,430.30L507.5,430.30L508.5,429.00L511.5,429.00L512.5,427.70L513.5,427.70L514.5,426.40L533.5,426.40L534.5,427.70L536.5,427.70L537.5,429.00L545.5,429.00L546.5,430.30L551.5,430.30L552.5,431.60L555.5,431.60L556.5,432.90L558.5,432.90L559.5,434.20L561.5,434.20L562.5,435.50L564.5,435.50L565.5,436.80L567.5,436.80L568.5,438.10L569.5,438.10L570.5,439.40L571.5,439.40L572.5,440.70L573.5,440.70L574.5,442.00L576.5,442.00L577.5,443.30L578.5,443.30L579.5,444.60L582.5,444.60L583.5,445.90L584.5,445.90L585.5,447.20L585.5,447.20L586.5,448.50L587.5,448.50L588.5,449.80L588.5,449.80L589.5,451.10L590.5,451.10L591.5,452.40L591.5,452.40L592.5,453.70L593.5,453.70L594.5,455.00L594.5,455.00L595.5,456.30L595.5,456.30L596.5,457.60L597.5,457.60L598.5,458.90L598.5,458.90L599.5,460.20L600.5,460.20L601.5,461.50L602.5,461.50L603.5,462.80L603.5,462.80L604.5,464.10L605.5,464.10L606.5,465.40L606.5,465.40L607.5,466.70L607.5,466.70L608.5,468.00L609.5,468.00L610.5,469.30L610.5,469.30L611.5,470.60L612.5,470.60L613.5,471.90L614.5,471.90L615.5,473.20L615.5,473.20L616.5,474.50L617.5,474.50L618.5,475.80L618.5,475.80L619.5,477.10L619.5,477.10L620.5,478.40L621.5,478.40L622.5,479.70L622.5,479.70L623.5,481.00L624.5,481.00L625.5,482.30L625.5,482.30L626.5,483.60L626.5,483.60L627.5,484.90L628.5,484.90L629.5,486.20L629.5,486.20L630.5,487.50L631.5,487.50L632.5,488.80L633.5,488.80L634.5,490.10L636.5,490.10L637.5,491.40L638.5,491.40L639.5,492.70L641.5,492.70L642.5,494.00L643.5,494.00L644.5,495.30L646.5,495.30L647.5,496.60L651.5,496.60L652.5,497.90L652.5,497.90L653.5,499.20L656.5,499.20L657.5,500.50L660.5,500.50L661.5,501.80L664.5,501.80L665.5,503.10L672.5,503.10L673.5,504.40L676.5,504.40L677.5,503.10L677.5,503.10L678.5,504.40L685.5,504.40L686.5,505.70L688.5,505.70L689.5,507.00L700.5,507.00L701.5,508.30L710.5,508.30L711.5,509.60L728.5,509.60L729.5,510.90L735.5,510.90L736.5,509.60L740.5,509.60L741.5,510.90L764.5,510.90L765.5,512.20L770.5,512.20L771.5,513.50L806.0,513.50" fill="none" stroke="#A00000" stroke-width="6.7" stroke-linejoin="round"/><path d="M808.0,513.75 810.0,513.73 812.0,513.72 814.0,513.70 816.0,513.69 818.0,513.68 820.0,513.66 822.0,513.65 824.0,513.63 826.0,513.62 828.0,513.60 830.0,513.58 832.0,513.57 834.0,513.55 836.0,513.53 838.0,513.52 840.0,513.50 842.0,513.48 844.0,513.46 846.0,513.44 848.0,513.42 850.0,513.40 852.0,513.38 854.0,513.36 856.0,513.34 858.0,513.32 860.0,513.30 862.0,513.28 864.0,513.25 866.0,513.23 868.0,513.20 870.0,513.18 872.0,513.15 874.0,513.13 876.0,513.10 878.0,513.07 880.0,513.04 882.0,513.01 884.0,512.98 886.0,512.95 888.0,512.92 890.0,512.89 892.0,512.85 894.0,512.82 896.0,512.78 898.0,512.75 900.0,512.71 902.0,512.67 904.0,512.63 906.0,512.59 908.0,512.54 910.0,512.50 912.0,512.46 914.0,512.41 916.0,512.36 918.0,512.31 920.0,512.26 922.0,512.21 924.0,512.15 926.0,512.09 928.0,512.04 930.0,511.98 932.0,511.91 934.0,511.85 936.0,511.78 938.0,511.72 940.0,511.64 942.0,511.57 944.0,511.50 946.0,511.42 948.0,511.34 950.0,511.25 952.0,511.17 954.0,511.08 956.0,510.99 958.0,510.89 960.0,510.79 962.0,510.69 964.0,510.58 966.0,510.47 968.0,510.36 970.0,510.24 972.0,510.12 974.0,510.00 976.0,509.87 978.0,509.73 980.0,509.60 982.0,509.45 984.0,509.30 986.0,509.15 988.0,508.99 990.0,508.82 992.0,508.65 994.0,508.47 996.0,508.29 998.0,508.10 1000.0,507.90 1002.0,507.70 1004.0,507.49 1006.0,507.27 1008.0,507.04 1010.0,506.81 1012.0,506.56 1014.0,506.31 1016.0,506.05 1018.0,505.78 1020.0,505.50 1022.0,505.21 1024.0,504.91 1026.0,504.59 1028.0,504.27 1030.0,503.94 1032.0,503.59 1034.0,503.23 1036.0,502.86 1038.0,502.47 1040.0,502.07 1042.0,501.66 1044.0,501.23 1046.0,500.79 1048.0,500.33 1050.0,499.85 1052.0,499.36 1054.0,498.85 1056.0,498.32 1058.0,497.77 1060.0,497.21 1062.0,496.62 1064.0,496.01 1066.0,495.39 1068.0,494.74 1070.0,494.06 1072.0,493.37 1074.0,492.65 1076.0,491.91 1078.0,491.14 1080.0,490.35 1082.0,489.53 1084.0,488.68 1086.0,487.80 1088.0,486.90 1090.0,485.97 1092.0,485.01 1094.0,484.02 1096.0,483.00 1098.0,481.95 1100.0,480.86 1102.0,479.75 1104.0,478.61 1106.0,477.43 1108.0,476.22 1110.0,474.98 1112.0,473.71 1114.0,472.40 1116.0,471.07 1118.0,469.70 1120.0,468.31 1122.0,466.89 1124.0,465.44 1126.0,463.96 1128.0,462.46 1130.0,460.94 1132.0,459.40 1134.0,457.84 1136.0,456.27 1138.0,454.68 1140.0,453.09 1142.0,451.49 1144.0,449.89 1146.0,448.30 1148.0,446.72 1150.0,445.15 1152.0,443.60 1154.0,442.07 1156.0,440.58 1158.0,439.13 1160.0,437.71 1162.0,436.35 1164.0,435.05 1166.0,433.81 1168.0,432.63 1170.0,431.54 1172.0,430.52 1174.0,429.60 1176.0,428.77 1178.0,428.04 1180.0,427.41 1182.0,426.88 1184.0,426.47 1186.0,426.17 1188.0,425.99 1190.0,425.93 1192.0,425.98 1194.0,426.15 1196.0,426.45 1198.0,426.86 1200.0,427.39 1202.0,428.03 1204.0,428.78 1206.0,429.64 1208.0,430.60 1210.0,431.65 1212.0,432.79 1214.0,434.01 1216.0,435.31 1218.0,436.69 1220.0,438.13 1222.0,439.62 1224.0,441.17 1226.0,442.77 1228.0,444.40 1230.0,446.07 1232.0,447.76 1234.0,449.48 1236.0,451.22 1238.0,452.96 1240.0,454.71 1242.0,456.47 1244.0,458.22 1246.0,459.96 1248.0,461.69 1250.0,463.41 1252.0,465.11 1254.0,466.79 1256.0,468.45 1258.0,470.07 1260.0,471.67 1262.0,473.24 1264.0,474.77 1266.0,476.27 1268.0,477.74 1270.0,479.17 1272.0,480.55 1274.0,481.90 1276.0,483.21 1278.0,484.48 1280.0,485.71 1282.0,486.90 1284.0,488.05 1286.0,489.15 1288.0,490.22 1290.0,491.24 1292.0,492.23 1294.0,493.18 1296.0,494.08 1298.0,494.95 1300.0,495.79 1302.0,496.58 1304.0,497.35 1306.0,498.07 1308.0,498.76 1310.0,499.42 1312.0,500.05 1314.0,500.65 1316.0,501.22 1318.0,501.76 1320.0,502.27 1322.0,502.76 1324.0,503.22 1326.0,503.66 1328.0,504.07 1330.0,504.46 1332.0,504.84 1334.0,505.19 1336.0,505.52 1338.0,505.83 1340.0,506.13 1342.0,506.41 1344.0,506.67 1346.0,506.92 1348.0,507.15 1350.0,507.37 1352.0,507.58 1354.0,507.78 1356.0,507.97 1358.0,508.14 1360.0,508.31 1362.0,508.46 1364.0,508.61 1366.0,508.75 1368.0,508.88 1370.0,509.00 1372.0,509.12 1374.0,509.23 1376.0,509.33 1378.0,509.43 1380.0,509.52 1382.0,509.61 1384.0,509.69 1386.0,509.77 1388.0,509.85 1390.0,509.92 1392.0,509.98 1394.0,510.05 1396.0,510.10 1398.0,510.16 1400.0,510.21 1402.0,510.26 1404.0,510.31 1406.0,510.36 1408.0,510.40 1410.0,510.44 1412.0,510.48 1414.0,510.52 1416.0,510.55 1418.0,510.58 1420.0,510.61 1422.0,510.64 1424.0,510.67 1426.0,510.70 1428.0,510.72 1430.0,510.74" fill="none" stroke="#A00000" stroke-width="6.7" stroke-linejoin="round"/><path d="M184.0,611.00L188.5,611.00L189.5,609.70L229.5,609.70L230.5,611.00L235.5,611.00L236.5,609.70L253.5,609.70L254.5,611.00L257.5,611.00L258.5,609.70L288.5,609.70L289.5,608.40L313.5,608.40L314.5,607.10L326.5,607.10L327.5,605.80L339.5,605.80L340.5,604.50L346.5,604.50L347.5,603.20L351.5,603.20L352.5,601.90L359.5,601.90L360.5,600.60L366.5,600.60L367.5,599.30L374.5,599.30L375.5,598.00L379.5,598.00L380.5,596.70L383.5,596.70L384.5,595.40L387.5,595.40L388.5,594.10L391.5,594.10L392.5,592.80L395.5,592.80L396.5,591.50L400.5,591.50L401.5,590.20L404.5,590.20L405.5,588.90L408.5,588.90L409.5,587.60L411.5,587.60L412.5,586.30L414.5,586.30L415.5,585.00L418.5,585.00L419.5,583.70L421.5,583.70L422.5,582.40L424.5,582.40L425.5,581.10L426.5,581.10L427.5,579.80L428.5,579.80L429.5,578.50L430.5,578.50L431.5,577.20L432.5,577.20L433.5,575.90L433.5,575.90L434.5,574.60L435.5,574.60L436.5,573.30L437.5,573.30L438.5,572.00L439.5,572.00L440.5,570.70L441.5,570.70L442.5,569.40L442.5,569.40L443.5,568.10L444.5,568.10L445.5,566.80L446.5,566.80L447.5,565.50L448.5,565.50L449.5,564.20L449.5,564.20L450.5,562.90L451.5,562.90L452.5,561.60L452.5,561.60L453.5,560.30L454.5,560.30L455.5,559.00L456.5,559.00L457.5,557.70L457.5,557.70L458.5,556.40L459.5,556.40L460.5,555.10L460.5,555.10L461.5,553.80L463.5,553.80L464.5,552.50L465.5,552.50L466.5,551.20L466.5,551.20L467.5,549.90L467.5,549.90L468.5,548.60L469.5,548.60L470.5,547.30L471.5,547.30L472.5,546.00L473.5,546.00L474.5,544.70L474.5,544.70L475.5,543.40L476.5,543.40L477.5,542.10L478.5,542.10L479.5,540.80L480.5,540.80L481.5,539.50L481.5,539.50L482.5,538.20L484.5,538.20L485.5,536.90L486.5,536.90L487.5,535.60L489.5,535.60L490.5,534.30L491.5,534.30L492.5,533.00L494.5,533.00L495.5,531.70L496.5,531.70L497.5,530.40L498.5,530.40L499.5,529.10L501.5,529.10L502.5,527.80L505.5,527.80L506.5,526.50L508.5,526.50L509.5,525.20L512.5,525.20L513.5,523.90L516.5,523.90L517.5,522.60L518.5,522.60L519.5,521.30L519.5,521.30L520.5,522.60L522.5,522.60L523.5,523.90L525.5,523.90L526.5,525.20L527.5,525.20L528.5,526.50L530.5,526.50L531.5,525.20L532.5,525.20L533.5,523.90L534.5,523.90L535.5,522.60L538.5,522.60L539.5,523.90L541.5,523.90L542.5,525.20L543.5,525.20L544.5,526.50L546.5,526.50L547.5,527.80L549.5,527.80L550.5,529.10L552.5,529.10L553.5,530.40L553.5,530.40L554.5,529.10L555.5,529.10L556.5,530.40L560.5,530.40L561.5,531.70L561.5,531.70L562.5,533.00L562.5,533.00L563.5,534.30L564.5,534.30L565.5,535.60L565.5,535.60L566.5,536.90L567.5,536.90L568.5,538.20L568.5,538.20L569.5,539.50L570.5,539.50L571.5,540.80L571.5,540.80L572.5,542.10L573.5,542.10L574.5,543.40L574.5,543.40L575.5,544.70L576.5,544.70L577.5,546.00L577.5,546.00L578.5,547.30L579.5,547.30L580.5,548.60L581.5,548.60L582.5,549.90L582.5,549.90L583.5,551.20L583.5,551.20L584.5,552.50L585.5,552.50L586.5,553.80L586.5,553.80L587.5,555.10L588.5,555.10L589.5,556.40L589.5,556.40L590.5,557.70L590.5,557.70L591.5,559.00L592.5,559.00L593.5,560.30L595.5,560.30L596.5,561.60L597.5,561.60L598.5,562.90L598.5,562.90L599.5,564.20L600.5,564.20L601.5,565.50L603.5,565.50L604.5,566.80L605.5,566.80L606.5,568.10L607.5,568.10L608.5,569.40L609.5,569.40L610.5,570.70L610.5,570.70L611.5,572.00L611.5,572.00L612.5,573.30L613.5,573.30L614.5,574.60L614.5,574.60L615.5,575.90L616.5,575.90L617.5,577.20L618.5,577.20L619.5,578.50L619.5,578.50L620.5,579.80L620.5,579.80L621.5,581.10L622.5,581.10L623.5,582.40L624.5,582.40L625.5,583.70L626.5,583.70L627.5,585.00L628.5,585.00L629.5,586.30L632.5,586.30L633.5,587.60L635.5,587.60L636.5,590.20L638.5,590.20L639.5,591.50L640.5,591.50L641.5,592.80L644.5,592.80L645.5,594.10L647.5,594.10L648.5,595.40L651.5,595.40L652.5,596.70L657.5,596.70L658.5,598.00L660.5,598.00L661.5,599.30L664.5,599.30L665.5,600.60L669.5,600.60L670.5,601.90L674.5,601.90L675.5,603.20L679.5,603.20L680.5,604.50L684.5,604.50L685.5,605.80L685.5,605.80L686.5,604.50L689.5,604.50L690.5,605.80L698.5,605.80L699.5,607.10L703.5,607.10L704.5,608.40L708.5,608.40L709.5,607.10L720.5,607.10L721.5,608.40L739.5,608.40L740.5,607.10L744.5,607.10L745.5,608.40L779.5,608.40L780.5,609.70L806.0,609.70" fill="none" stroke="#000090" stroke-width="6.7" stroke-linejoin="round"/><path d="M808.0,610.76 810.0,610.75 812.0,610.73 814.0,610.72 816.0,610.70 818.0,610.69 820.0,610.68 822.0,610.66 824.0,610.64 826.0,610.63 828.0,610.61 830.0,610.60 832.0,610.58 834.0,610.56 836.0,610.55 838.0,610.53 840.0,610.51 842.0,610.49 844.0,610.47 846.0,610.46 848.0,610.44 850.0,610.42 852.0,610.40 854.0,610.38 856.0,610.35 858.0,610.33 860.0,610.31 862.0,610.29 864.0,610.26 866.0,610.24 868.0,610.22 870.0,610.19 872.0,610.17 874.0,610.14 876.0,610.11 878.0,610.08 880.0,610.06 882.0,610.03 884.0,610.00 886.0,609.97 888.0,609.93 890.0,609.90 892.0,609.87 894.0,609.83 896.0,609.80 898.0,609.76 900.0,609.72 902.0,609.68 904.0,609.64 906.0,609.60 908.0,609.56 910.0,609.52 912.0,609.47 914.0,609.42 916.0,609.38 918.0,609.33 920.0,609.28 922.0,609.22 924.0,609.17 926.0,609.11 928.0,609.05 930.0,608.99 932.0,608.93 934.0,608.87 936.0,608.80 938.0,608.73 940.0,608.66 942.0,608.59 944.0,608.51 946.0,608.43 948.0,608.35 950.0,608.27 952.0,608.18 954.0,608.09 956.0,608.00 958.0,607.90 960.0,607.80 962.0,607.70 964.0,607.59 966.0,607.48 968.0,607.37 970.0,607.25 972.0,607.12 974.0,607.00 976.0,606.87 978.0,606.73 980.0,606.59 982.0,606.44 984.0,606.29 986.0,606.13 988.0,605.97 990.0,605.80 992.0,605.62 994.0,605.44 996.0,605.25 998.0,605.06 1000.0,604.85 1002.0,604.64 1004.0,604.43 1006.0,604.20 1008.0,603.97 1010.0,603.72 1012.0,603.47 1014.0,603.21 1016.0,602.94 1018.0,602.66 1020.0,602.37 1022.0,602.07 1024.0,601.75 1026.0,601.43 1028.0,601.09 1030.0,600.74 1032.0,600.38 1034.0,600.01 1036.0,599.62 1038.0,599.21 1040.0,598.79 1042.0,598.36 1044.0,597.91 1046.0,597.44 1048.0,596.96 1050.0,596.46 1052.0,595.94 1054.0,595.40 1056.0,594.84 1058.0,594.27 1060.0,593.67 1062.0,593.05 1064.0,592.40 1066.0,591.74 1068.0,591.05 1070.0,590.33 1072.0,589.60 1074.0,588.83 1076.0,588.04 1078.0,587.22 1080.0,586.37 1082.0,585.50 1084.0,584.60 1086.0,583.66 1088.0,582.70 1090.0,581.70 1092.0,580.67 1094.0,579.61 1096.0,578.52 1098.0,577.39 1100.0,576.23 1102.0,575.04 1104.0,573.81 1106.0,572.55 1108.0,571.25 1110.0,569.92 1112.0,568.56 1114.0,567.16 1116.0,565.73 1118.0,564.28 1120.0,562.79 1122.0,561.27 1124.0,559.73 1126.0,558.16 1128.0,556.57 1130.0,554.95 1132.0,553.33 1134.0,551.68 1136.0,550.03 1138.0,548.37 1140.0,546.71 1142.0,545.05 1144.0,543.40 1146.0,541.77 1148.0,540.15 1150.0,538.56 1152.0,537.00 1154.0,535.48 1156.0,534.01 1158.0,532.58 1160.0,531.22 1162.0,529.93 1164.0,528.71 1166.0,527.57 1168.0,526.52 1170.0,525.57 1172.0,524.71 1174.0,523.96 1176.0,523.32 1178.0,522.80 1180.0,522.40 1182.0,522.12 1184.0,521.96 1186.0,521.93 1188.0,522.02 1190.0,522.24 1192.0,522.59 1194.0,523.06 1196.0,523.65 1198.0,524.36 1200.0,525.18 1202.0,526.11 1204.0,527.14 1206.0,528.27 1208.0,529.49 1210.0,530.80 1212.0,532.18 1214.0,533.64 1216.0,535.15 1218.0,536.73 1220.0,538.36 1222.0,540.03 1224.0,541.74 1226.0,543.48 1228.0,545.24 1230.0,547.02 1232.0,548.82 1234.0,550.62 1236.0,552.43 1238.0,554.24 1240.0,556.03 1242.0,557.82 1244.0,559.59 1246.0,561.35 1248.0,563.08 1250.0,564.78 1252.0,566.46 1254.0,568.11 1256.0,569.73 1258.0,571.31 1260.0,572.85 1262.0,574.36 1264.0,575.83 1266.0,577.25 1268.0,578.64 1270.0,579.98 1272.0,581.28 1274.0,582.54 1276.0,583.76 1278.0,584.93 1280.0,586.06 1282.0,587.15 1284.0,588.19 1286.0,589.20 1288.0,590.16 1290.0,591.08 1292.0,591.96 1294.0,592.81 1296.0,593.61 1298.0,594.38 1300.0,595.11 1302.0,595.81 1304.0,596.48 1306.0,597.11 1308.0,597.71 1310.0,598.28 1312.0,598.82 1314.0,599.33 1316.0,599.82 1318.0,600.28 1320.0,600.71 1322.0,601.12 1324.0,601.51 1326.0,601.88 1328.0,602.22 1330.0,602.55 1332.0,602.86 1334.0,603.15 1336.0,603.43 1338.0,603.68 1340.0,603.93 1342.0,604.16 1344.0,604.37 1346.0,604.58 1348.0,604.77 1350.0,604.95 1352.0,605.12 1354.0,605.28 1356.0,605.43 1358.0,605.58 1360.0,605.71 1362.0,605.84 1364.0,605.95 1366.0,606.07 1368.0,606.17 1370.0,606.27 1372.0,606.37 1374.0,606.46 1376.0,606.54 1378.0,606.62 1380.0,606.69 1382.0,606.77 1384.0,606.83 1386.0,606.90 1388.0,606.96 1390.0,607.01 1392.0,607.06 1394.0,607.12 1396.0,607.16 1398.0,607.21 1400.0,607.25 1402.0,607.29 1404.0,607.33 1406.0,607.37 1408.0,607.40 1410.0,607.43 1412.0,607.46 1414.0,607.49 1416.0,607.52 1418.0,607.54 1420.0,607.57 1422.0,607.59 1424.0,607.61 1426.0,607.63 1428.0,607.65 1430.0,607.67" fill="none" stroke="#000090" stroke-width="6.7" stroke-linejoin="round"/><path d="M184.0,706.50L212.5,706.50L213.5,708.00L221.5,708.00L222.5,705.00L232.5,705.00L233.5,706.50L240.5,706.50L241.5,708.00L254.5,708.00L255.5,706.50L269.5,706.50L270.5,705.00L274.5,705.00L275.5,706.50L275.5,706.50L276.5,705.00L286.5,705.00L287.5,703.50L298.5,703.50L299.5,702.00L299.5,702.00L300.5,703.50L305.5,703.50L306.5,702.00L307.5,702.00L308.5,705.00L311.5,705.00L312.5,703.50L318.5,703.50L319.5,702.00L320.5,702.00L321.5,700.50L322.5,700.50L323.5,702.00L324.5,702.00L325.5,700.50L326.5,700.50L327.5,702.00L330.5,702.00L331.5,700.50L334.5,700.50L335.5,699.00L347.5,699.00L348.5,697.50L350.5,697.50L351.5,699.00L354.5,699.00L355.5,697.50L360.5,697.50L361.5,696.00L366.5,696.00L367.5,694.50L368.5,694.50L369.5,696.00L369.5,696.00L370.5,694.50L371.5,694.50L372.5,696.00L372.5,696.00L373.5,694.50L377.5,694.50L378.5,693.00L384.5,693.00L385.5,691.50L389.5,691.50L390.5,690.00L390.5,690.00L391.5,691.50L391.5,691.50L392.5,690.00L395.5,690.00L396.5,688.50L401.5,688.50L402.5,687.00L405.5,687.00L406.5,685.50L407.5,685.50L408.5,684.00L411.5,684.00L412.5,682.50L415.5,682.50L416.5,681.00L418.5,681.00L419.5,679.50L420.5,679.50L421.5,678.00L423.5,678.00L424.5,676.50L426.5,676.50L427.5,675.00L431.5,675.00L432.5,673.50L434.5,673.50L435.5,672.00L437.5,672.00L438.5,670.50L439.5,670.50L440.5,669.00L440.5,669.00L441.5,667.50L441.5,667.50L442.5,666.00L444.5,666.00L445.5,664.50L446.5,664.50L447.5,663.00L448.5,663.00L449.5,661.50L450.5,661.50L451.5,660.00L452.5,660.00L453.5,658.50L454.5,658.50L455.5,657.00L455.5,657.00L456.5,655.50L457.5,655.50L458.5,654.00L459.5,654.00L460.5,652.50L461.5,652.50L462.5,651.00L463.5,651.00L464.5,649.50L465.5,649.50L466.5,648.00L467.5,648.00L468.5,646.50L469.5,646.50L470.5,645.00L472.5,645.00L473.5,643.50L473.5,643.50L474.5,642.00L474.5,642.00L475.5,640.50L476.5,640.50L477.5,639.00L478.5,639.00L479.5,637.50L480.5,637.50L481.5,636.00L483.5,636.00L484.5,634.50L486.5,634.50L487.5,633.00L488.5,633.00L489.5,631.50L491.5,631.50L492.5,630.00L494.5,630.00L495.5,628.50L498.5,628.50L499.5,627.00L503.5,627.00L504.5,625.50L506.5,625.50L507.5,624.00L510.5,624.00L511.5,622.50L513.5,622.50L514.5,621.00L517.5,621.00L518.5,619.50L525.5,619.50L526.5,621.00L534.5,621.00L535.5,622.50L536.5,622.50L537.5,621.00L542.5,621.00L543.5,622.50L546.5,622.50L547.5,624.00L549.5,624.00L550.5,625.50L553.5,625.50L554.5,627.00L556.5,627.00L557.5,628.50L559.5,628.50L560.5,630.00L563.5,630.00L564.5,631.50L567.5,631.50L568.5,633.00L569.5,633.00L570.5,634.50L570.5,634.50L571.5,636.00L572.5,636.00L573.5,637.50L573.5,637.50L574.5,639.00L574.5,639.00L575.5,640.50L576.5,640.50L577.5,642.00L578.5,642.00L579.5,643.50L579.5,643.50L580.5,645.00L581.5,645.00L582.5,646.50L582.5,646.50L583.5,648.00L584.5,648.00L585.5,649.50L585.5,649.50L586.5,651.00L587.5,651.00L588.5,652.50L588.5,652.50L589.5,654.00L590.5,654.00L591.5,655.50L592.5,655.50L593.5,658.50L594.5,658.50L595.5,660.00L595.5,660.00L596.5,661.50L599.5,661.50L600.5,663.00L601.5,663.00L602.5,664.50L602.5,664.50L603.5,666.00L604.5,666.00L605.5,667.50L606.5,667.50L607.5,669.00L607.5,669.00L608.5,670.50L609.5,670.50L610.5,672.00L611.5,672.00L612.5,673.50L613.5,673.50L614.5,675.00L615.5,675.00L616.5,676.50L616.5,676.50L617.5,678.00L618.5,678.00L619.5,679.50L620.5,679.50L621.5,681.00L623.5,681.00L624.5,682.50L625.5,682.50L626.5,684.00L628.5,684.00L629.5,685.50L631.5,685.50L632.5,687.00L635.5,687.00L636.5,688.50L639.5,688.50L640.5,690.00L642.5,690.00L643.5,691.50L646.5,691.50L647.5,693.00L651.5,693.00L652.5,694.50L654.5,694.50L655.5,696.00L660.5,696.00L661.5,697.50L662.5,697.50L663.5,696.00L665.5,696.00L666.5,699.00L680.5,699.00L681.5,700.50L687.5,700.50L688.5,702.00L690.5,702.00L691.5,700.50L691.5,700.50L692.5,702.00L712.5,702.00L713.5,703.50L728.5,703.50L729.5,705.00L740.5,705.00L741.5,703.50L746.5,703.50L747.5,705.00L747.5,705.00L748.5,703.50L751.5,703.50L752.5,705.00L769.5,705.00L770.5,706.50L773.5,706.50L774.5,705.00L783.5,705.00L784.5,706.50L806.0,706.50" fill="none" stroke="#878800" stroke-width="6.7" stroke-linejoin="round"/><path d="M808.0,707.68 810.0,707.67 812.0,707.66 814.0,707.65 816.0,707.63 818.0,707.62 820.0,707.61 822.0,707.60 824.0,707.58 826.0,707.57 828.0,707.55 830.0,707.54 832.0,707.53 834.0,707.51 836.0,707.50 838.0,707.48 840.0,707.47 842.0,707.45 844.0,707.43 846.0,707.42 848.0,707.40 850.0,707.38 852.0,707.36 854.0,707.35 856.0,707.33 858.0,707.31 860.0,707.29 862.0,707.27 864.0,707.25 866.0,707.23 868.0,707.21 870.0,707.18 872.0,707.16 874.0,707.14 876.0,707.11 878.0,707.09 880.0,707.06 882.0,707.04 884.0,707.01 886.0,706.98 888.0,706.95 890.0,706.92 892.0,706.89 894.0,706.86 896.0,706.83 898.0,706.80 900.0,706.76 902.0,706.73 904.0,706.69 906.0,706.66 908.0,706.62 910.0,706.58 912.0,706.54 914.0,706.49 916.0,706.45 918.0,706.41 920.0,706.36 922.0,706.31 924.0,706.26 926.0,706.21 928.0,706.16 930.0,706.10 932.0,706.05 934.0,705.99 936.0,705.93 938.0,705.86 940.0,705.80 942.0,705.73 944.0,705.66 946.0,705.59 948.0,705.51 950.0,705.43 952.0,705.35 954.0,705.27 956.0,705.18 958.0,705.10 960.0,705.00 962.0,704.91 964.0,704.81 966.0,704.70 968.0,704.60 970.0,704.49 972.0,704.37 974.0,704.25 976.0,704.13 978.0,704.00 980.0,703.87 982.0,703.73 984.0,703.58 986.0,703.43 988.0,703.28 990.0,703.12 992.0,702.95 994.0,702.78 996.0,702.60 998.0,702.42 1000.0,702.22 1002.0,702.02 1004.0,701.81 1006.0,701.60 1008.0,701.38 1010.0,701.14 1012.0,700.90 1014.0,700.65 1016.0,700.39 1018.0,700.12 1020.0,699.84 1022.0,699.55 1024.0,699.25 1026.0,698.93 1028.0,698.61 1030.0,698.27 1032.0,697.92 1034.0,697.55 1036.0,697.17 1038.0,696.78 1040.0,696.37 1042.0,695.95 1044.0,695.51 1046.0,695.05 1048.0,694.58 1050.0,694.08 1052.0,693.57 1054.0,693.04 1056.0,692.49 1058.0,691.92 1060.0,691.33 1062.0,690.72 1064.0,690.08 1066.0,689.42 1068.0,688.74 1070.0,688.03 1072.0,687.29 1074.0,686.53 1076.0,685.74 1078.0,684.92 1080.0,684.08 1082.0,683.20 1084.0,682.29 1086.0,681.35 1088.0,680.38 1090.0,679.38 1092.0,678.35 1094.0,677.27 1096.0,676.17 1098.0,675.03 1100.0,673.85 1102.0,672.64 1104.0,671.40 1106.0,670.11 1108.0,668.79 1110.0,667.44 1112.0,666.05 1114.0,664.62 1116.0,663.16 1118.0,661.67 1120.0,660.14 1122.0,658.59 1124.0,657.00 1126.0,655.39 1128.0,653.76 1130.0,652.10 1132.0,650.42 1134.0,648.73 1136.0,647.03 1138.0,645.32 1140.0,643.61 1142.0,641.90 1144.0,640.21 1146.0,638.52 1148.0,636.86 1150.0,635.23 1152.0,633.63 1154.0,632.08 1156.0,630.57 1158.0,629.13 1160.0,627.75 1162.0,626.44 1164.0,625.22 1166.0,624.09 1168.0,623.05 1170.0,622.11 1172.0,621.29 1174.0,620.58 1176.0,619.99 1178.0,619.53 1180.0,619.19 1182.0,618.98 1184.0,618.91 1186.0,618.97 1188.0,619.16 1190.0,619.49 1192.0,619.94 1194.0,620.52 1196.0,621.22 1198.0,622.04 1200.0,622.98 1202.0,624.02 1204.0,625.17 1206.0,626.41 1208.0,627.74 1210.0,629.15 1212.0,630.63 1214.0,632.18 1216.0,633.80 1218.0,635.46 1220.0,637.17 1222.0,638.92 1224.0,640.70 1226.0,642.51 1228.0,644.33 1230.0,646.17 1232.0,648.02 1234.0,649.87 1236.0,651.71 1238.0,653.55 1240.0,655.37 1242.0,657.18 1244.0,658.96 1246.0,660.72 1248.0,662.46 1250.0,664.16 1252.0,665.84 1254.0,667.47 1256.0,669.07 1258.0,670.64 1260.0,672.16 1262.0,673.64 1264.0,675.07 1266.0,676.47 1268.0,677.82 1270.0,679.12 1272.0,680.38 1274.0,681.60 1276.0,682.77 1278.0,683.90 1280.0,684.98 1282.0,686.02 1284.0,687.02 1286.0,687.97 1288.0,688.89 1290.0,689.76 1292.0,690.59 1294.0,691.38 1296.0,692.14 1298.0,692.86 1300.0,693.54 1302.0,694.19 1304.0,694.81 1306.0,695.40 1308.0,695.95 1310.0,696.48 1312.0,696.97 1314.0,697.44 1316.0,697.89 1318.0,698.31 1320.0,698.70 1322.0,699.08 1324.0,699.43 1326.0,699.76 1328.0,700.07 1330.0,700.37 1332.0,700.65 1334.0,700.91 1336.0,701.16 1338.0,701.39 1340.0,701.61 1342.0,701.81 1344.0,702.01 1346.0,702.19 1348.0,702.36 1350.0,702.52 1352.0,702.67 1354.0,702.82 1356.0,702.95 1358.0,703.08 1360.0,703.20 1362.0,703.31 1364.0,703.42 1366.0,703.52 1368.0,703.61 1370.0,703.70 1372.0,703.78 1374.0,703.86 1376.0,703.94 1378.0,704.01 1380.0,704.07 1382.0,704.14 1384.0,704.20 1386.0,704.25 1388.0,704.31 1390.0,704.36 1392.0,704.40 1394.0,704.45 1396.0,704.49 1398.0,704.53 1400.0,704.57 1402.0,704.61 1404.0,704.64 1406.0,704.67 1408.0,704.70 1410.0,704.73 1412.0,704.76 1414.0,704.79 1416.0,704.81 1418.0,704.83 1420.0,704.86 1422.0,704.88 1424.0,704.89 1426.0,704.91 1428.0,704.93 1430.0,704.95" fill="none" stroke="#878800" stroke-width="6.7" stroke-linejoin="round"/><path d="M184.0,802.80L201.5,802.80L202.5,804.00L224.5,804.00L225.5,802.80L228.5,802.80L229.5,804.00L255.5,804.00L256.5,802.80L266.5,802.80L267.5,804.00L277.5,804.00L278.5,802.80L286.5,802.80L287.5,804.00L306.5,804.00L307.5,802.80L334.5,802.80L335.5,801.60L343.5,801.60L344.5,800.40L345.5,800.40L346.5,801.60L348.5,801.60L349.5,800.40L351.5,800.40L352.5,801.60L353.5,801.60L354.5,800.40L362.5,800.40L363.5,799.20L363.5,799.20L364.5,798.00L366.5,798.00L367.5,799.20L368.5,799.20L369.5,798.00L376.5,798.00L377.5,796.80L378.5,796.80L379.5,795.60L383.5,795.60L384.5,794.40L387.5,794.40L388.5,793.20L390.5,793.20L391.5,792.00L393.5,792.00L394.5,790.80L395.5,790.80L396.5,789.60L396.5,789.60L397.5,788.40L398.5,788.40L399.5,787.20L400.5,787.20L401.5,786.00L402.5,786.00L403.5,784.80L405.5,784.80L406.5,783.60L408.5,783.60L409.5,782.40L411.5,782.40L412.5,781.20L413.5,781.20L414.5,780.00L415.5,780.00L416.5,778.80L416.5,778.80L417.5,777.60L418.5,777.60L419.5,776.40L420.5,776.40L421.5,775.20L422.5,775.20L423.5,774.00L424.5,774.00L425.5,772.80L425.5,772.80L426.5,771.60L427.5,771.60L428.5,770.40L428.5,770.40L429.5,769.20L430.5,769.20L431.5,768.00L431.5,768.00L432.5,766.80L434.5,766.80L435.5,765.60L435.5,765.60L436.5,764.40L437.5,764.40L438.5,763.20L439.5,763.20L440.5,762.00L440.5,762.00L441.5,760.80L442.5,760.80L443.5,759.60L443.5,759.60L444.5,758.40L445.5,758.40L446.5,757.20L447.5,757.20L448.5,756.00L449.5,756.00L450.5,754.80L451.5,754.80L452.5,753.60L453.5,753.60L454.5,752.40L456.5,752.40L457.5,751.20L458.5,751.20L459.5,750.00L459.5,750.00L460.5,748.80L461.5,748.80L462.5,747.60L462.5,747.60L463.5,746.40L465.5,746.40L466.5,745.20L466.5,745.20L467.5,744.00L467.5,744.00L468.5,742.80L469.5,742.80L470.5,741.60L471.5,741.60L472.5,740.40L473.5,740.40L474.5,739.20L475.5,739.20L476.5,738.00L477.5,738.00L478.5,736.80L478.5,736.80L479.5,735.60L480.5,735.60L481.5,734.40L482.5,734.40L483.5,733.20L484.5,733.20L485.5,732.00L486.5,732.00L487.5,730.80L489.5,730.80L490.5,729.60L490.5,729.60L491.5,728.40L491.5,728.40L492.5,727.20L492.5,727.20L493.5,726.00L493.5,726.00L494.5,724.80L494.5,724.80L495.5,723.60L495.5,723.60L496.5,722.40L496.5,722.40L497.5,721.20L498.5,721.20L499.5,720.00L500.5,720.00L501.5,718.80L502.5,718.80L503.5,717.60L506.5,717.60L507.5,716.40L523.5,716.40L524.5,717.60L527.5,717.60L528.5,716.40L546.5,716.40L547.5,717.60L549.5,717.60L550.5,718.80L551.5,718.80L552.5,720.00L553.5,720.00L554.5,721.20L555.5,721.20L556.5,722.40L557.5,722.40L558.5,723.60L559.5,723.60L560.5,724.80L560.5,724.80L561.5,726.00L562.5,726.00L563.5,727.20L564.5,727.20L565.5,728.40L565.5,728.40L566.5,729.60L567.5,729.60L568.5,730.80L568.5,730.80L569.5,732.00L570.5,732.00L571.5,733.20L571.5,733.20L572.5,734.40L572.5,734.40L573.5,735.60L574.5,735.60L575.5,736.80L575.5,736.80L576.5,738.00L576.5,738.00L577.5,739.20L578.5,739.20L579.5,740.40L579.5,740.40L580.5,741.60L580.5,741.60L581.5,742.80L581.5,742.80L582.5,744.00L583.5,744.00L584.5,745.20L584.5,745.20L585.5,746.40L586.5,746.40L587.5,747.60L588.5,747.60L589.5,748.80L589.5,748.80L590.5,750.00L590.5,750.00L591.5,751.20L592.5,751.20L593.5,752.40L593.5,752.40L594.5,753.60L595.5,753.60L596.5,754.80L597.5,754.80L598.5,756.00L599.5,756.00L600.5,757.20L601.5,757.20L602.5,758.40L602.5,758.40L603.5,759.60L604.5,759.60L605.5,760.80L605.5,760.80L606.5,762.00L606.5,762.00L607.5,763.20L608.5,763.20L609.5,764.40L609.5,764.40L610.5,765.60L610.5,765.60L611.5,766.80L611.5,766.80L612.5,768.00L612.5,768.00L613.5,769.20L613.5,769.20L614.5,771.60L614.5,771.60L615.5,772.80L615.5,772.80L616.5,774.00L617.5,774.00L618.5,775.20L618.5,775.20L619.5,776.40L620.5,776.40L621.5,777.60L621.5,777.60L622.5,778.80L623.5,778.80L624.5,780.00L624.5,780.00L625.5,781.20L626.5,781.20L627.5,782.40L628.5,782.40L629.5,783.60L630.5,783.60L631.5,784.80L632.5,784.80L633.5,786.00L635.5,786.00L636.5,787.20L638.5,787.20L639.5,788.40L641.5,788.40L642.5,789.60L644.5,789.60L645.5,790.80L647.5,790.80L648.5,792.00L650.5,792.00L651.5,793.20L655.5,793.20L656.5,794.40L659.5,794.40L660.5,795.60L664.5,795.60L665.5,796.80L669.5,796.80L670.5,799.20L674.5,799.20L675.5,798.00L680.5,798.00L681.5,799.20L688.5,799.20L689.5,800.40L702.5,800.40L703.5,801.60L715.5,801.60L716.5,802.80L759.5,802.80L760.5,804.00L763.5,804.00L764.5,802.80L778.5,802.80L779.5,804.00L789.5,804.00L790.5,802.80L795.5,802.80L796.5,804.00L804.5,804.00L805.5,802.80L806.0,802.80" fill="none" stroke="#FF00FF" stroke-width="6.7" stroke-linejoin="round"/><path d="M808.0,803.40 810.0,803.39 812.0,803.38 814.0,803.37 816.0,803.37 818.0,803.36 820.0,803.35 822.0,803.34 824.0,803.33 826.0,803.32 828.0,803.31 830.0,803.31 832.0,803.30 834.0,803.29 836.0,803.28 838.0,803.26 840.0,803.25 842.0,803.24 844.0,803.23 846.0,803.22 848.0,803.21 850.0,803.19 852.0,803.18 854.0,803.17 856.0,803.15 858.0,803.14 860.0,803.13 862.0,803.11 864.0,803.09 866.0,803.08 868.0,803.06 870.0,803.04 872.0,803.03 874.0,803.01 876.0,802.99 878.0,802.97 880.0,802.95 882.0,802.93 884.0,802.91 886.0,802.88 888.0,802.86 890.0,802.84 892.0,802.81 894.0,802.79 896.0,802.76 898.0,802.73 900.0,802.70 902.0,802.67 904.0,802.64 906.0,802.61 908.0,802.58 910.0,802.54 912.0,802.51 914.0,802.47 916.0,802.43 918.0,802.39 920.0,802.35 922.0,802.31 924.0,802.26 926.0,802.22 928.0,802.17 930.0,802.12 932.0,802.07 934.0,802.01 936.0,801.96 938.0,801.90 940.0,801.84 942.0,801.78 944.0,801.71 946.0,801.65 948.0,801.58 950.0,801.50 952.0,801.43 954.0,801.35 956.0,801.27 958.0,801.18 960.0,801.09 962.0,801.00 964.0,800.91 966.0,800.81 968.0,800.71 970.0,800.60 972.0,800.49 974.0,800.37 976.0,800.25 978.0,800.13 980.0,800.00 982.0,799.86 984.0,799.72 986.0,799.57 988.0,799.42 990.0,799.26 992.0,799.10 994.0,798.93 996.0,798.75 998.0,798.57 1000.0,798.37 1002.0,798.17 1004.0,797.97 1006.0,797.75 1008.0,797.52 1010.0,797.29 1012.0,797.05 1014.0,796.79 1016.0,796.53 1018.0,796.26 1020.0,795.97 1022.0,795.67 1024.0,795.37 1026.0,795.05 1028.0,794.71 1030.0,794.37 1032.0,794.01 1034.0,793.63 1036.0,793.24 1038.0,792.84 1040.0,792.42 1042.0,791.98 1044.0,791.52 1046.0,791.05 1048.0,790.56 1050.0,790.05 1052.0,789.51 1054.0,788.96 1056.0,788.39 1058.0,787.79 1060.0,787.17 1062.0,786.53 1064.0,785.86 1066.0,785.17 1068.0,784.45 1070.0,783.71 1072.0,782.93 1074.0,782.13 1076.0,781.30 1078.0,780.43 1080.0,779.54 1082.0,778.61 1084.0,777.65 1086.0,776.66 1088.0,775.63 1090.0,774.57 1092.0,773.47 1094.0,772.34 1096.0,771.17 1098.0,769.96 1100.0,768.71 1102.0,767.43 1104.0,766.11 1106.0,764.75 1108.0,763.36 1110.0,761.92 1112.0,760.46 1114.0,758.96 1116.0,757.42 1118.0,755.86 1120.0,754.26 1122.0,752.64 1124.0,750.99 1126.0,749.32 1128.0,747.63 1130.0,745.92 1132.0,744.21 1134.0,742.49 1136.0,740.77 1138.0,739.06 1140.0,737.36 1142.0,735.67 1144.0,734.02 1146.0,732.39 1148.0,730.81 1150.0,729.27 1152.0,727.80 1154.0,726.38 1156.0,725.05 1158.0,723.79 1160.0,722.62 1162.0,721.56 1164.0,720.59 1166.0,719.74 1168.0,719.01 1170.0,718.41 1172.0,717.93 1174.0,717.59 1176.0,717.38 1178.0,717.31 1180.0,717.37 1182.0,717.57 1184.0,717.90 1186.0,718.37 1188.0,718.97 1190.0,719.69 1192.0,720.53 1194.0,721.48 1196.0,722.55 1198.0,723.71 1200.0,724.98 1202.0,726.33 1204.0,727.76 1206.0,729.27 1208.0,730.84 1210.0,732.48 1212.0,734.16 1214.0,735.89 1216.0,737.65 1218.0,739.45 1220.0,741.26 1222.0,743.10 1224.0,744.94 1226.0,746.79 1228.0,748.64 1230.0,750.48 1232.0,752.31 1234.0,754.13 1236.0,755.92 1238.0,757.70 1240.0,759.44 1242.0,761.16 1244.0,762.85 1246.0,764.50 1248.0,766.11 1250.0,767.68 1252.0,769.22 1254.0,770.71 1256.0,772.16 1258.0,773.56 1260.0,774.92 1262.0,776.23 1264.0,777.50 1266.0,778.73 1268.0,779.90 1270.0,781.03 1272.0,782.12 1274.0,783.16 1276.0,784.16 1278.0,785.12 1280.0,786.03 1282.0,786.90 1284.0,787.74 1286.0,788.53 1288.0,789.28 1290.0,790.00 1292.0,790.68 1294.0,791.33 1296.0,791.94 1298.0,792.52 1300.0,793.07 1302.0,793.59 1304.0,794.08 1306.0,794.55 1308.0,794.99 1310.0,795.40 1312.0,795.79 1314.0,796.16 1316.0,796.51 1318.0,796.84 1320.0,797.15 1322.0,797.44 1324.0,797.71 1326.0,797.97 1328.0,798.21 1330.0,798.44 1332.0,798.65 1334.0,798.85 1336.0,799.04 1338.0,799.22 1340.0,799.39 1342.0,799.55 1344.0,799.70 1346.0,799.84 1348.0,799.97 1350.0,800.10 1352.0,800.22 1354.0,800.33 1356.0,800.43 1358.0,800.53 1360.0,800.62 1362.0,800.71 1364.0,800.80 1366.0,800.88 1368.0,800.95 1370.0,801.02 1372.0,801.09 1374.0,801.15 1376.0,801.21 1378.0,801.27 1380.0,801.32 1382.0,801.37 1384.0,801.42 1386.0,801.47 1388.0,801.51 1390.0,801.56 1392.0,801.60 1394.0,801.63 1396.0,801.67 1398.0,801.70 1400.0,801.74 1402.0,801.77 1404.0,801.80 1406.0,801.82 1408.0,801.85 1410.0,801.88 1412.0,801.90 1414.0,801.92 1416.0,801.95 1418.0,801.97 1420.0,801.99 1422.0,802.00 1424.0,802.02 1426.0,802.04 1428.0,802.06 1430.0,802.07" fill="none" stroke="#FF00FF" stroke-width="6.7" stroke-linejoin="round"/><path d="M184.0,900.20L186.5,900.20L187.5,898.80L193.5,898.80L194.5,900.20L201.5,900.20L202.5,901.60L206.5,901.60L207.5,900.20L210.5,900.20L211.5,898.80L222.5,898.80L223.5,900.20L273.5,900.20L274.5,901.60L282.5,901.60L283.5,898.80L292.5,898.80L293.5,900.20L314.5,900.20L315.5,898.80L326.5,898.80L327.5,900.20L333.5,900.20L334.5,898.80L340.5,898.80L341.5,900.20L341.5,900.20L342.5,898.80L344.5,898.80L345.5,897.40L364.5,897.40L365.5,896.00L372.5,896.00L373.5,894.60L375.5,894.60L376.5,893.20L379.5,893.20L380.5,891.80L386.5,891.80L387.5,890.40L392.5,890.40L393.5,889.00L395.5,889.00L396.5,887.60L397.5,887.60L398.5,886.20L398.5,886.20L399.5,884.80L400.5,884.80L401.5,883.40L402.5,883.40L403.5,882.00L405.5,882.00L406.5,880.60L409.5,880.60L410.5,879.20L413.5,879.20L414.5,877.80L417.5,877.80L418.5,876.40L419.5,876.40L420.5,875.00L421.5,875.00L422.5,873.60L424.5,873.60L425.5,872.20L425.5,872.20L426.5,870.80L429.5,870.80L430.5,869.40L431.5,869.40L432.5,868.00L433.5,868.00L434.5,866.60L435.5,866.60L436.5,865.20L437.5,865.20L438.5,863.80L439.5,863.80L440.5,862.40L441.5,862.40L442.5,861.00L444.5,861.00L445.5,859.60L446.5,859.60L447.5,858.20L448.5,858.20L449.5,856.80L450.5,856.80L451.5,855.40L451.5,855.40L452.5,854.00L453.5,854.00L454.5,852.60L455.5,852.60L456.5,849.80L456.5,849.80L457.5,848.40L457.5,848.40L458.5,847.00L459.5,847.00L460.5,845.60L461.5,845.60L462.5,844.20L462.5,844.20L463.5,842.80L464.5,842.80L465.5,841.40L466.5,841.40L467.5,842.80L467.5,842.80L468.5,841.40L468.5,841.40L469.5,840.00L470.5,840.00L471.5,838.60L472.5,838.60L473.5,837.20L474.5,837.20L475.5,835.80L476.5,835.80L477.5,834.40L478.5,834.40L479.5,833.00L479.5,833.00L480.5,831.60L480.5,831.60L481.5,830.20L482.5,830.20L483.5,828.80L483.5,828.80L484.5,827.40L485.5,827.40L486.5,826.00L487.5,826.00L488.5,824.60L488.5,824.60L489.5,823.20L490.5,823.20L491.5,821.80L492.5,821.80L493.5,820.40L493.5,820.40L494.5,819.00L495.5,819.00L496.5,817.60L497.5,817.60L498.5,816.20L500.5,816.20L501.5,814.80L510.5,814.80L511.5,816.20L512.5,816.20L513.5,814.80L514.5,814.80L515.5,816.20L517.5,816.20L518.5,814.80L518.5,814.80L519.5,813.40L524.5,813.40L525.5,812.00L527.5,812.00L528.5,813.40L533.5,813.40L534.5,814.80L537.5,814.80L538.5,813.40L542.5,813.40L543.5,814.80L544.5,814.80L545.5,816.20L546.5,816.20L547.5,817.60L550.5,817.60L551.5,819.00L553.5,819.00L554.5,820.40L556.5,820.40L557.5,821.80L558.5,821.80L559.5,823.20L559.5,823.20L560.5,824.60L561.5,824.60L562.5,826.00L562.5,826.00L563.5,827.40L563.5,827.40L564.5,828.80L565.5,828.80L566.5,830.20L567.5,830.20L568.5,831.60L570.5,831.60L571.5,833.00L572.5,833.00L573.5,834.40L574.5,834.40L575.5,835.80L575.5,835.80L576.5,837.20L576.5,837.20L577.5,838.60L577.5,838.60L578.5,840.00L578.5,840.00L579.5,841.40L580.5,841.40L581.5,842.80L582.5,842.80L583.5,844.20L583.5,844.20L584.5,845.60L586.5,845.60L587.5,847.00L588.5,847.00L589.5,848.40L591.5,848.40L592.5,849.80L593.5,849.80L594.5,851.20L595.5,851.20L596.5,852.60L596.5,852.60L597.5,854.00L598.5,854.00L599.5,855.40L600.5,855.40L601.5,856.80L602.5,856.80L603.5,858.20L603.5,858.20L604.5,859.60L604.5,859.60L605.5,861.00L606.5,861.00L607.5,863.80L607.5,863.80L608.5,865.20L609.5,865.20L610.5,866.60L610.5,866.60L611.5,868.00L611.5,868.00L612.5,869.40L612.5,869.40L613.5,870.80L614.5,870.80L615.5,872.20L615.5,872.20L616.5,873.60L617.5,873.60L618.5,875.00L619.5,875.00L620.5,876.40L620.5,876.40L621.5,875.00L621.5,875.00L622.5,876.40L623.5,876.40L624.5,877.80L625.5,877.80L626.5,879.20L627.5,879.20L628.5,880.60L630.5,880.60L631.5,882.00L632.5,882.00L633.5,883.40L635.5,883.40L636.5,884.80L638.5,884.80L639.5,886.20L644.5,886.20L645.5,887.60L648.5,887.60L649.5,889.00L652.5,889.00L653.5,890.40L654.5,890.40L655.5,891.80L655.5,891.80L656.5,893.20L658.5,893.20L659.5,891.80L659.5,891.80L660.5,893.20L667.5,893.20L668.5,894.60L668.5,894.60L669.5,896.00L673.5,896.00L674.5,894.60L675.5,894.60L676.5,896.00L677.5,896.00L678.5,897.40L691.5,897.40L692.5,898.80L708.5,898.80L709.5,900.20L720.5,900.20L721.5,898.80L745.5,898.80L746.5,900.20L748.5,900.20L749.5,898.80L761.5,898.80L762.5,900.20L796.5,900.20L797.5,901.60L804.5,901.60L805.5,900.20L806.0,900.20" fill="none" stroke="#008888" stroke-width="6.7" stroke-linejoin="round"/><path d="M808.0,900.81 810.0,900.81 812.0,900.80 814.0,900.79 816.0,900.78 818.0,900.77 820.0,900.76 822.0,900.75 824.0,900.75 826.0,900.74 828.0,900.73 830.0,900.72 832.0,900.71 834.0,900.70 836.0,900.69 838.0,900.67 840.0,900.66 842.0,900.65 844.0,900.64 846.0,900.63 848.0,900.62 850.0,900.60 852.0,900.59 854.0,900.58 856.0,900.56 858.0,900.55 860.0,900.53 862.0,900.52 864.0,900.50 866.0,900.49 868.0,900.47 870.0,900.45 872.0,900.44 874.0,900.42 876.0,900.40 878.0,900.38 880.0,900.36 882.0,900.34 884.0,900.32 886.0,900.30 888.0,900.27 890.0,900.25 892.0,900.23 894.0,900.20 896.0,900.18 898.0,900.15 900.0,900.12 902.0,900.09 904.0,900.06 906.0,900.03 908.0,900.00 910.0,899.97 912.0,899.93 914.0,899.90 916.0,899.86 918.0,899.82 920.0,899.79 922.0,899.74 924.0,899.70 926.0,899.66 928.0,899.61 930.0,899.56 932.0,899.52 934.0,899.46 936.0,899.41 938.0,899.36 940.0,899.30 942.0,899.24 944.0,899.18 946.0,899.11 948.0,899.05 950.0,898.98 952.0,898.90 954.0,898.83 956.0,898.75 958.0,898.67 960.0,898.59 962.0,898.50 964.0,898.41 966.0,898.31 968.0,898.21 970.0,898.11 972.0,898.00 974.0,897.89 976.0,897.78 978.0,897.66 980.0,897.53 982.0,897.40 984.0,897.26 986.0,897.12 988.0,896.98 990.0,896.82 992.0,896.66 994.0,896.50 996.0,896.33 998.0,896.15 1000.0,895.96 1002.0,895.76 1004.0,895.56 1006.0,895.35 1008.0,895.13 1010.0,894.90 1012.0,894.66 1014.0,894.42 1016.0,894.16 1018.0,893.89 1020.0,893.61 1022.0,893.32 1024.0,893.02 1026.0,892.70 1028.0,892.37 1030.0,892.03 1032.0,891.67 1034.0,891.30 1036.0,890.92 1038.0,890.51 1040.0,890.10 1042.0,889.66 1044.0,889.21 1046.0,888.73 1048.0,888.24 1050.0,887.73 1052.0,887.20 1054.0,886.65 1056.0,886.07 1058.0,885.47 1060.0,884.85 1062.0,884.21 1064.0,883.53 1066.0,882.83 1068.0,882.11 1070.0,881.35 1072.0,880.57 1074.0,879.75 1076.0,878.90 1078.0,878.03 1080.0,877.11 1082.0,876.17 1084.0,875.19 1086.0,874.17 1088.0,873.12 1090.0,872.03 1092.0,870.90 1094.0,869.73 1096.0,868.53 1098.0,867.28 1100.0,865.99 1102.0,864.67 1104.0,863.30 1106.0,861.89 1108.0,860.44 1110.0,858.96 1112.0,857.43 1114.0,855.87 1116.0,854.27 1118.0,852.63 1120.0,850.96 1122.0,849.26 1124.0,847.54 1126.0,845.79 1128.0,844.02 1130.0,842.23 1132.0,840.44 1134.0,838.63 1136.0,836.83 1138.0,835.03 1140.0,833.25 1142.0,831.49 1144.0,829.76 1146.0,828.06 1148.0,826.41 1150.0,824.82 1152.0,823.29 1154.0,821.83 1156.0,820.46 1158.0,819.17 1160.0,817.99 1162.0,816.92 1164.0,815.97 1166.0,815.14 1168.0,814.45 1170.0,813.89 1172.0,813.47 1174.0,813.20 1176.0,813.08 1178.0,813.10 1180.0,813.27 1182.0,813.58 1184.0,814.03 1186.0,814.62 1188.0,815.35 1190.0,816.20 1192.0,817.17 1194.0,818.26 1196.0,819.46 1198.0,820.76 1200.0,822.16 1202.0,823.64 1204.0,825.20 1206.0,826.84 1208.0,828.53 1210.0,830.28 1212.0,832.07 1214.0,833.91 1216.0,835.77 1218.0,837.66 1220.0,839.56 1222.0,841.48 1224.0,843.40 1226.0,845.31 1228.0,847.22 1230.0,849.12 1232.0,851.00 1234.0,852.85 1236.0,854.68 1238.0,856.49 1240.0,858.26 1242.0,859.99 1244.0,861.69 1246.0,863.34 1248.0,864.96 1250.0,866.53 1252.0,868.05 1254.0,869.53 1256.0,870.96 1258.0,872.35 1260.0,873.68 1262.0,874.97 1264.0,876.21 1266.0,877.40 1268.0,878.54 1270.0,879.64 1272.0,880.69 1274.0,881.69 1276.0,882.65 1278.0,883.56 1280.0,884.43 1282.0,885.26 1284.0,886.05 1286.0,886.80 1288.0,887.51 1290.0,888.18 1292.0,888.82 1294.0,889.42 1296.0,889.99 1298.0,890.53 1300.0,891.04 1302.0,891.52 1304.0,891.98 1306.0,892.40 1308.0,892.81 1310.0,893.18 1312.0,893.54 1314.0,893.88 1316.0,894.19 1318.0,894.49 1320.0,894.77 1322.0,895.03 1324.0,895.28 1326.0,895.51 1328.0,895.73 1330.0,895.93 1332.0,896.12 1334.0,896.30 1336.0,896.47 1338.0,896.63 1340.0,896.78 1342.0,896.92 1344.0,897.06 1346.0,897.18 1348.0,897.30 1350.0,897.41 1352.0,897.51 1354.0,897.61 1356.0,897.70 1358.0,897.79 1360.0,897.87 1362.0,897.95 1364.0,898.03 1366.0,898.09 1368.0,898.16 1370.0,898.22 1372.0,898.28 1374.0,898.34 1376.0,898.39 1378.0,898.44 1380.0,898.49 1382.0,898.53 1384.0,898.57 1386.0,898.62 1388.0,898.65 1390.0,898.69 1392.0,898.72 1394.0,898.76 1396.0,898.79 1398.0,898.82 1400.0,898.84 1402.0,898.87 1404.0,898.90 1406.0,898.92 1408.0,898.94 1410.0,898.96 1412.0,898.98 1414.0,899.00 1416.0,899.02 1418.0,899.04 1420.0,899.05 1422.0,899.07 1424.0,899.08 1426.0,899.10 1428.0,899.11 1430.0,899.12" fill="none" stroke="#008888" stroke-width="6.7" stroke-linejoin="round"/><path d="M184.0,996.80L247.5,996.80L248.5,995.40L257.5,995.40L258.5,996.80L273.5,996.80L274.5,995.40L299.5,995.40L300.5,996.80L305.5,996.80L306.5,995.40L316.5,995.40L317.5,996.80L319.5,996.80L320.5,995.40L334.5,995.40L335.5,994.00L345.5,994.00L346.5,992.60L357.5,992.60L358.5,991.20L362.5,991.20L363.5,992.60L366.5,992.60L367.5,991.20L373.5,991.20L374.5,989.80L375.5,989.80L376.5,988.40L379.5,988.40L380.5,987.00L383.5,987.00L384.5,985.60L389.5,985.60L390.5,984.20L392.5,984.20L393.5,982.80L395.5,982.80L396.5,981.40L399.5,981.40L400.5,980.00L403.5,980.00L404.5,978.60L405.5,978.60L406.5,977.20L407.5,977.20L408.5,975.80L410.5,975.80L411.5,974.40L412.5,974.40L413.5,973.00L414.5,973.00L415.5,971.60L417.5,971.60L418.5,970.20L419.5,970.20L420.5,968.80L421.5,968.80L422.5,967.40L423.5,967.40L424.5,966.00L426.5,966.00L427.5,964.60L428.5,964.60L429.5,963.20L430.5,963.20L431.5,961.80L432.5,961.80L433.5,960.40L434.5,960.40L435.5,959.00L437.5,959.00L438.5,957.60L440.5,957.60L441.5,956.20L442.5,956.20L443.5,954.80L445.5,954.80L446.5,953.40L447.5,953.40L448.5,952.00L449.5,952.00L450.5,950.60L451.5,950.60L452.5,949.20L453.5,949.20L454.5,947.80L454.5,947.80L455.5,946.40L456.5,946.40L457.5,945.00L458.5,945.00L459.5,943.60L459.5,943.60L460.5,942.20L461.5,942.20L462.5,940.80L462.5,940.80L463.5,939.40L463.5,939.40L464.5,938.00L465.5,938.00L466.5,936.60L467.5,936.60L468.5,935.20L469.5,935.20L470.5,933.80L470.5,933.80L471.5,932.40L471.5,932.40L472.5,931.00L472.5,931.00L473.5,929.60L474.5,929.60L475.5,928.20L475.5,928.20L476.5,926.80L476.5,926.80L477.5,925.40L478.5,925.40L479.5,924.00L480.5,924.00L481.5,922.60L483.5,922.60L484.5,921.20L486.5,921.20L487.5,919.80L490.5,919.80L491.5,918.40L493.5,918.40L494.5,917.00L495.5,917.00L496.5,915.60L498.5,915.60L499.5,914.20L501.5,914.20L502.5,912.80L503.5,912.80L504.5,911.40L507.5,911.40L508.5,910.00L519.5,910.00L520.5,911.40L524.5,911.40L525.5,910.00L535.5,910.00L536.5,911.40L547.5,911.40L548.5,912.80L549.5,912.80L550.5,914.20L551.5,914.20L552.5,915.60L553.5,915.60L554.5,917.00L555.5,917.00L556.5,918.40L556.5,918.40L557.5,919.80L557.5,919.80L558.5,921.20L558.5,921.20L559.5,922.60L560.5,922.60L561.5,924.00L561.5,924.00L562.5,925.40L562.5,925.40L563.5,926.80L564.5,926.80L565.5,928.20L565.5,928.20L566.5,929.60L567.5,929.60L568.5,931.00L569.5,931.00L570.5,932.40L570.5,932.40L571.5,933.80L572.5,933.80L573.5,935.20L573.5,935.20L574.5,936.60L575.5,936.60L576.5,938.00L576.5,938.00L577.5,939.40L578.5,939.40L579.5,940.80L579.5,940.80L580.5,942.20L580.5,942.20L581.5,943.60L582.5,943.60L583.5,945.00L584.5,945.00L585.5,946.40L586.5,946.40L587.5,947.80L588.5,947.80L589.5,949.20L590.5,949.20L591.5,950.60L592.5,950.60L593.5,952.00L594.5,952.00L595.5,953.40L595.5,953.40L596.5,954.80L596.5,954.80L597.5,956.20L598.5,956.20L599.5,957.60L599.5,957.60L600.5,959.00L600.5,959.00L601.5,960.40L601.5,960.40L602.5,961.80L602.5,961.80L603.5,963.20L603.5,963.20L604.5,964.60L606.5,964.60L607.5,966.00L607.5,966.00L608.5,967.40L609.5,967.40L610.5,968.80L610.5,968.80L611.5,970.20L612.5,970.20L613.5,971.60L614.5,971.60L615.5,973.00L616.5,973.00L617.5,974.40L618.5,974.40L619.5,975.80L620.5,975.80L621.5,977.20L623.5,977.20L624.5,978.60L626.5,978.60L627.5,980.00L628.5,980.00L629.5,981.40L630.5,981.40L631.5,982.80L633.5,982.80L634.5,984.20L639.5,984.20L640.5,985.60L644.5,985.60L645.5,988.40L645.5,988.40L646.5,989.80L650.5,989.80L651.5,988.40L651.5,988.40L652.5,989.80L656.5,989.80L657.5,991.20L669.5,991.20L670.5,992.60L685.5,992.60L686.5,994.00L716.5,994.00L717.5,995.40L720.5,995.40L721.5,996.80L728.5,996.80L729.5,995.40L731.5,995.40L732.5,996.80L738.5,996.80L739.5,995.40L743.5,995.40L744.5,996.80L753.5,996.80L754.5,995.40L756.5,995.40L757.5,996.80L773.5,996.80L774.5,995.40L786.5,995.40L787.5,996.80L806.0,996.80" fill="none" stroke="#0000FF" stroke-width="6.7" stroke-linejoin="round"/><path d="M808.0,997.73 810.0,997.72 812.0,997.71 814.0,997.70 816.0,997.69 818.0,997.68 820.0,997.67 822.0,997.67 824.0,997.66 826.0,997.65 828.0,997.64 830.0,997.63 832.0,997.61 834.0,997.60 836.0,997.59 838.0,997.58 840.0,997.57 842.0,997.56 844.0,997.55 846.0,997.54 848.0,997.52 850.0,997.51 852.0,997.50 854.0,997.48 856.0,997.47 858.0,997.46 860.0,997.44 862.0,997.43 864.0,997.41 866.0,997.39 868.0,997.38 870.0,997.36 872.0,997.34 874.0,997.33 876.0,997.31 878.0,997.29 880.0,997.27 882.0,997.25 884.0,997.23 886.0,997.21 888.0,997.19 890.0,997.16 892.0,997.14 894.0,997.12 896.0,997.09 898.0,997.07 900.0,997.04 902.0,997.01 904.0,996.98 906.0,996.95 908.0,996.92 910.0,996.89 912.0,996.86 914.0,996.82 916.0,996.79 918.0,996.75 920.0,996.71 922.0,996.67 924.0,996.63 926.0,996.59 928.0,996.54 930.0,996.50 932.0,996.45 934.0,996.40 936.0,996.35 938.0,996.30 940.0,996.24 942.0,996.18 944.0,996.12 946.0,996.06 948.0,996.00 950.0,995.93 952.0,995.86 954.0,995.79 956.0,995.71 958.0,995.63 960.0,995.55 962.0,995.46 964.0,995.37 966.0,995.28 968.0,995.19 970.0,995.08 972.0,994.98 974.0,994.87 976.0,994.76 978.0,994.64 980.0,994.52 982.0,994.39 984.0,994.26 986.0,994.12 988.0,993.97 990.0,993.82 992.0,993.66 994.0,993.50 996.0,993.33 998.0,993.15 1000.0,992.97 1002.0,992.77 1004.0,992.57 1006.0,992.36 1008.0,992.14 1010.0,991.91 1012.0,991.68 1014.0,991.43 1016.0,991.17 1018.0,990.90 1020.0,990.62 1022.0,990.33 1024.0,990.02 1026.0,989.71 1028.0,989.37 1030.0,989.03 1032.0,988.67 1034.0,988.29 1036.0,987.90 1038.0,987.49 1040.0,987.07 1042.0,986.63 1044.0,986.17 1046.0,985.68 1048.0,985.18 1050.0,984.66 1052.0,984.12 1054.0,983.55 1056.0,982.96 1058.0,982.35 1060.0,981.71 1062.0,981.04 1064.0,980.35 1066.0,979.62 1068.0,978.87 1070.0,978.09 1072.0,977.28 1074.0,976.43 1076.0,975.55 1078.0,974.64 1080.0,973.69 1082.0,972.70 1084.0,971.68 1086.0,970.61 1088.0,969.51 1090.0,968.37 1092.0,967.18 1094.0,965.96 1096.0,964.69 1098.0,963.38 1100.0,962.02 1102.0,960.62 1104.0,959.18 1106.0,957.69 1108.0,956.16 1110.0,954.59 1112.0,952.97 1114.0,951.32 1116.0,949.62 1118.0,947.89 1120.0,946.13 1122.0,944.33 1124.0,942.50 1126.0,940.66 1128.0,938.79 1130.0,936.90 1132.0,935.01 1134.0,933.12 1136.0,931.23 1138.0,929.35 1140.0,927.49 1142.0,925.66 1144.0,923.87 1146.0,922.13 1148.0,920.45 1150.0,918.83 1152.0,917.30 1154.0,915.85 1156.0,914.50 1158.0,913.27 1160.0,912.15 1162.0,911.16 1164.0,910.31 1166.0,909.60 1168.0,909.04 1170.0,908.63 1172.0,908.39 1174.0,908.30 1176.0,908.37 1178.0,908.59 1180.0,908.97 1182.0,909.49 1184.0,910.16 1186.0,910.97 1188.0,911.91 1190.0,912.98 1192.0,914.16 1194.0,915.46 1196.0,916.87 1198.0,918.37 1200.0,919.96 1202.0,921.63 1204.0,923.37 1206.0,925.16 1208.0,927.01 1210.0,928.91 1212.0,930.83 1214.0,932.79 1216.0,934.76 1218.0,936.75 1220.0,938.74 1222.0,940.74 1224.0,942.72 1226.0,944.69 1228.0,946.65 1230.0,948.58 1232.0,950.48 1234.0,952.36 1236.0,954.20 1238.0,956.00 1240.0,957.76 1242.0,959.48 1244.0,961.16 1246.0,962.78 1248.0,964.36 1250.0,965.89 1252.0,967.37 1254.0,968.80 1256.0,970.18 1258.0,971.51 1260.0,972.78 1262.0,974.01 1264.0,975.18 1266.0,976.31 1268.0,977.38 1270.0,978.41 1272.0,979.38 1274.0,980.32 1276.0,981.20 1278.0,982.05 1280.0,982.85 1282.0,983.60 1284.0,984.32 1286.0,985.00 1288.0,985.65 1290.0,986.25 1292.0,986.83 1294.0,987.37 1296.0,987.88 1298.0,988.36 1300.0,988.81 1302.0,989.24 1304.0,989.64 1306.0,990.01 1308.0,990.37 1310.0,990.70 1312.0,991.01 1314.0,991.30 1316.0,991.58 1318.0,991.84 1320.0,992.08 1322.0,992.30 1324.0,992.52 1326.0,992.72 1328.0,992.90 1330.0,993.08 1332.0,993.24 1334.0,993.40 1336.0,993.54 1338.0,993.68 1340.0,993.81 1342.0,993.93 1344.0,994.04 1346.0,994.15 1348.0,994.25 1350.0,994.34 1352.0,994.43 1354.0,994.52 1356.0,994.59 1358.0,994.67 1360.0,994.74 1362.0,994.81 1364.0,994.87 1366.0,994.93 1368.0,994.98 1370.0,995.04 1372.0,995.09 1374.0,995.13 1376.0,995.18 1378.0,995.22 1380.0,995.26 1382.0,995.30 1384.0,995.33 1386.0,995.37 1388.0,995.40 1390.0,995.43 1392.0,995.46 1394.0,995.49 1396.0,995.51 1398.0,995.54 1400.0,995.56 1402.0,995.58 1404.0,995.60 1406.0,995.62 1408.0,995.64 1410.0,995.65 1412.0,995.67 1414.0,995.69 1416.0,995.70 1418.0,995.71 1420.0,995.73 1422.0,995.74 1424.0,995.75 1426.0,995.76 1428.0,995.77 1430.0,995.78" fill="none" stroke="#0000FF" stroke-width="6.7" stroke-linejoin="round"/><path d="M184.0,1094.60L219.5,1094.60L220.5,1093.30L227.5,1093.30L228.5,1094.60L237.5,1094.60L238.5,1093.30L245.5,1093.30L246.5,1094.60L266.5,1094.60L267.5,1093.30L270.5,1093.30L271.5,1092.00L280.5,1092.00L281.5,1093.30L289.5,1093.30L290.5,1094.60L296.5,1094.60L297.5,1093.30L326.5,1093.30L327.5,1092.00L347.5,1092.00L348.5,1090.70L349.5,1090.70L350.5,1089.40L357.5,1089.40L358.5,1088.10L363.5,1088.10L364.5,1086.80L366.5,1086.80L367.5,1085.50L373.5,1085.50L374.5,1084.20L376.5,1084.20L377.5,1082.90L384.5,1082.90L385.5,1081.60L385.5,1081.60L386.5,1082.90L388.5,1082.90L389.5,1081.60L394.5,1081.60L395.5,1080.30L399.5,1080.30L400.5,1079.00L402.5,1079.00L403.5,1077.70L405.5,1077.70L406.5,1076.40L408.5,1076.40L409.5,1075.10L410.5,1075.10L411.5,1073.80L411.5,1073.80L412.5,1075.10L412.5,1075.10L413.5,1073.80L414.5,1073.80L415.5,1072.50L415.5,1072.50L416.5,1071.20L418.5,1071.20L419.5,1069.90L420.5,1069.90L421.5,1068.60L422.5,1068.60L423.5,1067.30L424.5,1067.30L425.5,1066.00L426.5,1066.00L427.5,1064.70L428.5,1064.70L429.5,1063.40L430.5,1063.40L431.5,1062.10L432.5,1062.10L433.5,1060.80L434.5,1060.80L435.5,1059.50L435.5,1059.50L436.5,1058.20L437.5,1058.20L438.5,1056.90L438.5,1056.90L439.5,1055.60L440.5,1055.60L441.5,1054.30L442.5,1054.30L443.5,1053.00L444.5,1053.00L445.5,1051.70L446.5,1051.70L447.5,1050.40L448.5,1050.40L449.5,1049.10L450.5,1049.10L451.5,1047.80L452.5,1047.80L453.5,1046.50L457.5,1046.50L458.5,1045.20L459.5,1045.20L460.5,1043.90L460.5,1043.90L461.5,1042.60L461.5,1042.60L462.5,1041.30L462.5,1041.30L463.5,1040.00L463.5,1040.00L464.5,1038.70L464.5,1038.70L465.5,1037.40L465.5,1037.40L466.5,1036.10L466.5,1036.10L467.5,1034.80L467.5,1034.80L468.5,1033.50L468.5,1033.50L469.5,1032.20L469.5,1032.20L470.5,1030.90L470.5,1030.90L471.5,1029.60L471.5,1029.60L472.5,1028.30L473.5,1028.30L474.5,1027.00L474.5,1027.00L475.5,1025.70L476.5,1025.70L477.5,1024.40L478.5,1024.40L479.5,1023.10L479.5,1023.10L480.5,1021.80L480.5,1021.80L481.5,1020.50L482.5,1020.50L483.5,1019.20L485.5,1019.20L486.5,1017.90L487.5,1017.90L488.5,1016.60L489.5,1016.60L490.5,1015.30L494.5,1015.30L495.5,1014.00L497.5,1014.00L498.5,1012.70L499.5,1012.70L500.5,1011.40L504.5,1011.40L505.5,1010.10L508.5,1010.10L509.5,1008.80L509.5,1008.80L510.5,1007.50L510.5,1007.50L511.5,1006.20L511.5,1006.20L512.5,1004.90L513.5,1004.90L514.5,1003.60L514.5,1003.60L515.5,1004.90L516.5,1004.90L517.5,1006.20L517.5,1006.20L518.5,1007.50L541.5,1007.50L542.5,1008.80L545.5,1008.80L546.5,1010.10L548.5,1010.10L549.5,1011.40L550.5,1011.40L551.5,1012.70L553.5,1012.70L554.5,1014.00L554.5,1014.00L555.5,1015.30L556.5,1015.30L557.5,1016.60L557.5,1016.60L558.5,1017.90L559.5,1017.90L560.5,1019.20L562.5,1019.20L563.5,1020.50L563.5,1020.50L564.5,1021.80L564.5,1021.80L565.5,1023.10L566.5,1023.10L567.5,1024.40L567.5,1024.40L568.5,1025.70L568.5,1025.70L569.5,1027.00L569.5,1027.00L570.5,1028.30L571.5,1028.30L572.5,1030.90L572.5,1030.90L573.5,1032.20L573.5,1032.20L574.5,1033.50L574.5,1033.50L575.5,1032.20L575.5,1032.20L576.5,1033.50L576.5,1033.50L577.5,1034.80L578.5,1034.80L579.5,1036.10L579.5,1036.10L580.5,1037.40L581.5,1037.40L582.5,1040.00L582.5,1040.00L583.5,1041.30L583.5,1041.30L584.5,1042.60L585.5,1042.60L586.5,1043.90L586.5,1043.90L587.5,1045.20L588.5,1045.20L589.5,1046.50L589.5,1046.50L590.5,1047.80L591.5,1047.80L592.5,1049.10L593.5,1049.10L594.5,1050.40L594.5,1050.40L595.5,1051.70L595.5,1051.70L596.5,1053.00L596.5,1053.00L597.5,1054.30L597.5,1054.30L598.5,1055.60L599.5,1055.60L600.5,1056.90L600.5,1056.90L601.5,1058.20L601.5,1058.20L602.5,1059.50L602.5,1059.50L603.5,1060.80L603.5,1060.80L604.5,1062.10L605.5,1062.10L606.5,1063.40L606.5,1063.40L607.5,1064.70L607.5,1064.70L608.5,1066.00L609.5,1066.00L610.5,1067.30L610.5,1067.30L611.5,1068.60L611.5,1068.60L612.5,1069.90L613.5,1069.90L614.5,1071.20L615.5,1071.20L616.5,1072.50L617.5,1072.50L618.5,1073.80L619.5,1073.80L620.5,1075.10L621.5,1075.10L622.5,1076.40L624.5,1076.40L625.5,1077.70L627.5,1077.70L628.5,1079.00L630.5,1079.00L631.5,1080.30L633.5,1080.30L634.5,1081.60L637.5,1081.60L638.5,1082.90L641.5,1082.90L642.5,1084.20L644.5,1084.20L645.5,1085.50L645.5,1085.50L646.5,1086.80L649.5,1086.80L650.5,1088.10L653.5,1088.10L654.5,1089.40L660.5,1089.40L661.5,1090.70L669.5,1090.70L670.5,1092.00L692.5,1092.00L693.5,1093.30L704.5,1093.30L705.5,1092.00L716.5,1092.00L717.5,1093.30L741.5,1093.30L742.5,1094.60L745.5,1094.60L746.5,1093.30L796.5,1093.30L797.5,1094.60L806.0,1094.60" fill="none" stroke="#FF0000" stroke-width="6.7" stroke-linejoin="round"/><path d="M808.0,1095.14 810.0,1095.13 812.0,1095.12 814.0,1095.11 816.0,1095.10 818.0,1095.09 820.0,1095.07 822.0,1095.06 824.0,1095.05 826.0,1095.04 828.0,1095.02 830.0,1095.01 832.0,1095.00 834.0,1094.99 836.0,1094.97 838.0,1094.96 840.0,1094.95 842.0,1094.93 844.0,1094.92 846.0,1094.90 848.0,1094.89 850.0,1094.87 852.0,1094.86 854.0,1094.84 856.0,1094.83 858.0,1094.81 860.0,1094.79 862.0,1094.78 864.0,1094.76 866.0,1094.74 868.0,1094.72 870.0,1094.71 872.0,1094.69 874.0,1094.67 876.0,1094.65 878.0,1094.63 880.0,1094.61 882.0,1094.59 884.0,1094.56 886.0,1094.54 888.0,1094.52 890.0,1094.50 892.0,1094.47 894.0,1094.45 896.0,1094.42 898.0,1094.39 900.0,1094.37 902.0,1094.34 904.0,1094.31 906.0,1094.28 908.0,1094.25 910.0,1094.22 912.0,1094.18 914.0,1094.15 916.0,1094.11 918.0,1094.08 920.0,1094.04 922.0,1094.00 924.0,1093.96 926.0,1093.92 928.0,1093.87 930.0,1093.83 932.0,1093.78 934.0,1093.73 936.0,1093.68 938.0,1093.63 940.0,1093.58 942.0,1093.52 944.0,1093.46 946.0,1093.40 948.0,1093.34 950.0,1093.27 952.0,1093.21 954.0,1093.14 956.0,1093.06 958.0,1092.99 960.0,1092.91 962.0,1092.82 964.0,1092.74 966.0,1092.65 968.0,1092.56 970.0,1092.46 972.0,1092.36 974.0,1092.26 976.0,1092.15 978.0,1092.03 980.0,1091.91 982.0,1091.79 984.0,1091.66 986.0,1091.53 988.0,1091.39 990.0,1091.25 992.0,1091.09 994.0,1090.94 996.0,1090.77 998.0,1090.60 1000.0,1090.42 1002.0,1090.23 1004.0,1090.04 1006.0,1089.84 1008.0,1089.63 1010.0,1089.41 1012.0,1089.18 1014.0,1088.94 1016.0,1088.68 1018.0,1088.42 1020.0,1088.15 1022.0,1087.87 1024.0,1087.57 1026.0,1087.26 1028.0,1086.94 1030.0,1086.60 1032.0,1086.25 1034.0,1085.88 1036.0,1085.50 1038.0,1085.10 1040.0,1084.68 1042.0,1084.25 1044.0,1083.79 1046.0,1083.32 1048.0,1082.82 1050.0,1082.31 1052.0,1081.77 1054.0,1081.21 1056.0,1080.63 1058.0,1080.02 1060.0,1079.38 1062.0,1078.72 1064.0,1078.03 1066.0,1077.30 1068.0,1076.55 1070.0,1075.77 1072.0,1074.96 1074.0,1074.11 1076.0,1073.22 1078.0,1072.31 1080.0,1071.35 1082.0,1070.35 1084.0,1069.32 1086.0,1068.24 1088.0,1067.13 1090.0,1065.97 1092.0,1064.76 1094.0,1063.52 1096.0,1062.22 1098.0,1060.88 1100.0,1059.50 1102.0,1058.07 1104.0,1056.59 1106.0,1055.06 1108.0,1053.49 1110.0,1051.87 1112.0,1050.21 1114.0,1048.50 1116.0,1046.75 1118.0,1044.96 1120.0,1043.13 1122.0,1041.27 1124.0,1039.38 1126.0,1037.46 1128.0,1035.53 1130.0,1033.57 1132.0,1031.61 1134.0,1029.64 1136.0,1027.68 1138.0,1025.74 1140.0,1023.82 1142.0,1021.93 1144.0,1020.09 1146.0,1018.29 1148.0,1016.57 1150.0,1014.92 1152.0,1013.36 1154.0,1011.90 1156.0,1010.56 1158.0,1009.33 1160.0,1008.24 1162.0,1007.29 1164.0,1006.49 1166.0,1005.85 1168.0,1005.37 1170.0,1005.06 1172.0,1004.93 1174.0,1004.96 1176.0,1005.15 1178.0,1005.50 1180.0,1006.00 1182.0,1006.66 1184.0,1007.47 1186.0,1008.41 1188.0,1009.49 1190.0,1010.70 1192.0,1012.02 1194.0,1013.46 1196.0,1015.00 1198.0,1016.62 1200.0,1018.33 1202.0,1020.11 1204.0,1021.96 1206.0,1023.85 1208.0,1025.80 1210.0,1027.77 1212.0,1029.78 1214.0,1031.80 1216.0,1033.84 1218.0,1035.87 1220.0,1037.91 1222.0,1039.94 1224.0,1041.95 1226.0,1043.94 1228.0,1045.91 1230.0,1047.85 1232.0,1049.75 1234.0,1051.62 1236.0,1053.44 1238.0,1055.23 1240.0,1056.96 1242.0,1058.65 1244.0,1060.29 1246.0,1061.88 1248.0,1063.41 1250.0,1064.89 1252.0,1066.32 1254.0,1067.70 1256.0,1069.02 1258.0,1070.29 1260.0,1071.50 1262.0,1072.66 1264.0,1073.77 1266.0,1074.83 1268.0,1075.84 1270.0,1076.80 1272.0,1077.71 1274.0,1078.58 1276.0,1079.40 1278.0,1080.18 1280.0,1080.91 1282.0,1081.61 1284.0,1082.26 1286.0,1082.88 1288.0,1083.47 1290.0,1084.02 1292.0,1084.53 1294.0,1085.02 1296.0,1085.48 1298.0,1085.91 1300.0,1086.31 1302.0,1086.69 1304.0,1087.04 1306.0,1087.37 1308.0,1087.69 1310.0,1087.98 1312.0,1088.25 1314.0,1088.51 1316.0,1088.74 1318.0,1088.97 1320.0,1089.18 1322.0,1089.37 1324.0,1089.56 1326.0,1089.73 1328.0,1089.89 1330.0,1090.04 1332.0,1090.18 1334.0,1090.31 1336.0,1090.44 1338.0,1090.55 1340.0,1090.66 1342.0,1090.76 1344.0,1090.86 1346.0,1090.95 1348.0,1091.03 1350.0,1091.11 1352.0,1091.19 1354.0,1091.26 1356.0,1091.32 1358.0,1091.39 1360.0,1091.44 1362.0,1091.50 1364.0,1091.55 1366.0,1091.60 1368.0,1091.64 1370.0,1091.69 1372.0,1091.73 1374.0,1091.76 1376.0,1091.80 1378.0,1091.83 1380.0,1091.86 1382.0,1091.89 1384.0,1091.92 1386.0,1091.95 1388.0,1091.97 1390.0,1092.00 1392.0,1092.02 1394.0,1092.04 1396.0,1092.06 1398.0,1092.07 1400.0,1092.09 1402.0,1092.10 1404.0,1092.12 1406.0,1092.13 1408.0,1092.14 1410.0,1092.16 1412.0,1092.17 1414.0,1092.18 1416.0,1092.18 1418.0,1092.19 1420.0,1092.20 1422.0,1092.21 1424.0,1092.21 1426.0,1092.22 1428.0,1092.22 1430.0,1092.22" fill="none" stroke="#FF0000" stroke-width="6.7" stroke-linejoin="round"/><path d="M184.0,1191.60L192.5,1191.60L193.5,1190.40L221.5,1190.40L222.5,1191.60L229.5,1191.60L230.5,1190.40L243.5,1190.40L244.5,1189.20L246.5,1189.20L247.5,1190.40L250.5,1190.40L251.5,1189.20L281.5,1189.20L282.5,1190.40L284.5,1190.40L285.5,1189.20L293.5,1189.20L294.5,1190.40L294.5,1190.40L295.5,1189.20L303.5,1189.20L304.5,1188.00L308.5,1188.00L309.5,1189.20L310.5,1189.20L311.5,1188.00L316.5,1188.00L317.5,1186.80L320.5,1186.80L321.5,1185.60L335.5,1185.60L336.5,1186.80L338.5,1186.80L339.5,1185.60L347.5,1185.60L348.5,1184.40L353.5,1184.40L354.5,1183.20L357.5,1183.20L358.5,1184.40L361.5,1184.40L362.5,1183.20L365.5,1183.20L366.5,1182.00L378.5,1182.00L379.5,1180.80L384.5,1180.80L385.5,1179.60L388.5,1179.60L389.5,1178.40L391.5,1178.40L392.5,1177.20L393.5,1177.20L394.5,1176.00L397.5,1176.00L398.5,1174.80L400.5,1174.80L401.5,1173.60L403.5,1173.60L404.5,1172.40L406.5,1172.40L407.5,1171.20L409.5,1171.20L410.5,1170.00L412.5,1170.00L413.5,1168.80L414.5,1168.80L415.5,1167.60L417.5,1167.60L418.5,1166.40L419.5,1166.40L420.5,1165.20L422.5,1165.20L423.5,1164.00L424.5,1164.00L425.5,1162.80L426.5,1162.80L427.5,1161.60L429.5,1161.60L430.5,1160.40L431.5,1160.40L432.5,1159.20L432.5,1159.20L433.5,1158.00L434.5,1158.00L435.5,1156.80L436.5,1156.80L437.5,1155.60L438.5,1155.60L439.5,1154.40L439.5,1154.40L440.5,1153.20L440.5,1153.20L441.5,1152.00L441.5,1152.00L442.5,1150.80L443.5,1150.80L444.5,1149.60L444.5,1149.60L445.5,1148.40L445.5,1148.40L446.5,1147.20L446.5,1147.20L447.5,1146.00L448.5,1146.00L449.5,1144.80L449.5,1144.80L450.5,1143.60L451.5,1143.60L452.5,1142.40L452.5,1142.40L453.5,1141.20L453.5,1141.20L454.5,1140.00L454.5,1140.00L455.5,1137.60L455.5,1137.60L456.5,1136.40L456.5,1136.40L457.5,1135.20L458.5,1135.20L459.5,1134.00L459.5,1134.00L460.5,1132.80L460.5,1132.80L461.5,1131.60L461.5,1131.60L462.5,1130.40L463.5,1130.40L464.5,1129.20L465.5,1129.20L466.5,1128.00L467.5,1128.00L468.5,1126.80L468.5,1126.80L469.5,1125.60L470.5,1125.60L471.5,1124.40L472.5,1124.40L473.5,1123.20L474.5,1123.20L475.5,1122.00L475.5,1122.00L476.5,1120.80L476.5,1120.80L477.5,1119.60L478.5,1119.60L479.5,1118.40L481.5,1118.40L482.5,1117.20L483.5,1117.20L484.5,1116.00L485.5,1116.00L486.5,1114.80L488.5,1114.80L489.5,1113.60L490.5,1113.60L491.5,1112.40L493.5,1112.40L494.5,1111.20L496.5,1111.20L497.5,1110.00L497.5,1110.00L498.5,1108.80L500.5,1108.80L501.5,1107.60L505.5,1107.60L506.5,1106.40L509.5,1106.40L510.5,1105.20L513.5,1105.20L514.5,1104.00L521.5,1104.00L522.5,1102.80L525.5,1102.80L526.5,1104.00L534.5,1104.00L535.5,1105.20L536.5,1105.20L537.5,1106.40L540.5,1106.40L541.5,1107.60L544.5,1107.60L545.5,1108.80L548.5,1108.80L549.5,1110.00L551.5,1110.00L552.5,1111.20L553.5,1111.20L554.5,1112.40L554.5,1112.40L555.5,1114.80L556.5,1114.80L557.5,1116.00L557.5,1116.00L558.5,1117.20L559.5,1117.20L560.5,1118.40L560.5,1118.40L561.5,1119.60L563.5,1119.60L564.5,1120.80L564.5,1120.80L565.5,1122.00L566.5,1122.00L567.5,1123.20L567.5,1123.20L568.5,1125.60L568.5,1125.60L569.5,1126.80L570.5,1126.80L571.5,1128.00L571.5,1128.00L572.5,1129.20L572.5,1129.20L573.5,1130.40L574.5,1130.40L575.5,1131.60L575.5,1131.60L576.5,1132.80L576.5,1132.80L577.5,1134.00L577.5,1134.00L578.5,1135.20L580.5,1135.20L581.5,1136.40L581.5,1136.40L582.5,1137.60L582.5,1137.60L583.5,1138.80L583.5,1138.80L584.5,1140.00L584.5,1140.00L585.5,1141.20L585.5,1141.20L586.5,1142.40L586.5,1142.40L587.5,1143.60L587.5,1143.60L588.5,1144.80L588.5,1144.80L589.5,1146.00L589.5,1146.00L590.5,1147.20L590.5,1147.20L591.5,1148.40L591.5,1148.40L592.5,1149.60L592.5,1149.60L593.5,1150.80L593.5,1150.80L594.5,1152.00L594.5,1152.00L595.5,1153.20L595.5,1153.20L596.5,1154.40L596.5,1154.40L597.5,1155.60L598.5,1155.60L599.5,1156.80L599.5,1156.80L600.5,1158.00L600.5,1158.00L601.5,1159.20L602.5,1159.20L603.5,1160.40L603.5,1160.40L604.5,1161.60L605.5,1161.60L606.5,1162.80L606.5,1162.80L607.5,1164.00L608.5,1164.00L609.5,1165.20L609.5,1165.20L610.5,1166.40L611.5,1166.40L612.5,1167.60L612.5,1167.60L613.5,1168.80L613.5,1168.80L614.5,1170.00L615.5,1170.00L616.5,1171.20L618.5,1171.20L619.5,1172.40L620.5,1172.40L621.5,1173.60L622.5,1173.60L623.5,1174.80L625.5,1174.80L626.5,1176.00L627.5,1176.00L628.5,1177.20L630.5,1177.20L631.5,1178.40L633.5,1178.40L634.5,1179.60L634.5,1179.60L635.5,1178.40L635.5,1178.40L636.5,1179.60L639.5,1179.60L640.5,1180.80L645.5,1180.80L646.5,1182.00L656.5,1182.00L657.5,1183.20L660.5,1183.20L661.5,1184.40L661.5,1184.40L662.5,1185.60L672.5,1185.60L673.5,1186.80L693.5,1186.80L694.5,1188.00L742.5,1188.00L743.5,1189.20L745.5,1189.20L746.5,1188.00L749.5,1188.00L750.5,1189.20L765.5,1189.20L766.5,1188.00L768.5,1188.00L769.5,1189.20L783.5,1189.20L784.5,1190.40L802.5,1190.40L803.5,1189.20L806.0,1189.20" fill="none" stroke="#000000" stroke-width="6.7" stroke-linejoin="round"/><path d="M808.0,1191.65 810.0,1191.65 812.0,1191.64 814.0,1191.63 816.0,1191.62 818.0,1191.62 820.0,1191.61 822.0,1191.60 824.0,1191.59 826.0,1191.58 828.0,1191.57 830.0,1191.57 832.0,1191.56 834.0,1191.55 836.0,1191.54 838.0,1191.53 840.0,1191.52 842.0,1191.51 844.0,1191.50 846.0,1191.49 848.0,1191.48 850.0,1191.47 852.0,1191.46 854.0,1191.45 856.0,1191.44 858.0,1191.42 860.0,1191.41 862.0,1191.40 864.0,1191.39 866.0,1191.38 868.0,1191.36 870.0,1191.35 872.0,1191.33 874.0,1191.32 876.0,1191.30 878.0,1191.29 880.0,1191.27 882.0,1191.26 884.0,1191.24 886.0,1191.22 888.0,1191.20 890.0,1191.19 892.0,1191.17 894.0,1191.15 896.0,1191.13 898.0,1191.10 900.0,1191.08 902.0,1191.06 904.0,1191.03 906.0,1191.01 908.0,1190.98 910.0,1190.96 912.0,1190.93 914.0,1190.90 916.0,1190.87 918.0,1190.84 920.0,1190.81 922.0,1190.78 924.0,1190.74 926.0,1190.71 928.0,1190.67 930.0,1190.63 932.0,1190.59 934.0,1190.55 936.0,1190.50 938.0,1190.46 940.0,1190.41 942.0,1190.36 944.0,1190.31 946.0,1190.25 948.0,1190.20 950.0,1190.14 952.0,1190.08 954.0,1190.01 956.0,1189.95 958.0,1189.88 960.0,1189.81 962.0,1189.73 964.0,1189.65 966.0,1189.57 968.0,1189.49 970.0,1189.40 972.0,1189.30 974.0,1189.21 976.0,1189.10 978.0,1189.00 980.0,1188.89 982.0,1188.77 984.0,1188.65 986.0,1188.52 988.0,1188.39 990.0,1188.25 992.0,1188.11 994.0,1187.96 996.0,1187.80 998.0,1187.64 1000.0,1187.47 1002.0,1187.29 1004.0,1187.10 1006.0,1186.90 1008.0,1186.70 1010.0,1186.48 1012.0,1186.26 1014.0,1186.02 1016.0,1185.78 1018.0,1185.52 1020.0,1185.26 1022.0,1184.98 1024.0,1184.68 1026.0,1184.38 1028.0,1184.06 1030.0,1183.72 1032.0,1183.37 1034.0,1183.01 1036.0,1182.63 1038.0,1182.23 1040.0,1181.81 1042.0,1181.37 1044.0,1180.92 1046.0,1180.44 1048.0,1179.94 1050.0,1179.42 1052.0,1178.87 1054.0,1178.31 1056.0,1177.71 1058.0,1177.09 1060.0,1176.44 1062.0,1175.77 1064.0,1175.06 1066.0,1174.32 1068.0,1173.55 1070.0,1172.75 1072.0,1171.91 1074.0,1171.03 1076.0,1170.12 1078.0,1169.17 1080.0,1168.18 1082.0,1167.15 1084.0,1166.07 1086.0,1164.96 1088.0,1163.80 1090.0,1162.59 1092.0,1161.33 1094.0,1160.03 1096.0,1158.68 1098.0,1157.28 1100.0,1155.83 1102.0,1154.34 1104.0,1152.79 1106.0,1151.19 1108.0,1149.55 1110.0,1147.85 1112.0,1146.12 1114.0,1144.33 1116.0,1142.51 1118.0,1140.64 1120.0,1138.74 1122.0,1136.81 1124.0,1134.85 1126.0,1132.87 1128.0,1130.88 1130.0,1128.88 1132.0,1126.88 1134.0,1124.89 1136.0,1122.92 1138.0,1120.97 1140.0,1119.07 1142.0,1117.22 1144.0,1115.43 1146.0,1113.72 1148.0,1112.10 1150.0,1110.58 1152.0,1109.17 1154.0,1107.89 1156.0,1106.75 1158.0,1105.75 1160.0,1104.92 1162.0,1104.24 1164.0,1103.74 1166.0,1103.42 1168.0,1103.28 1170.0,1103.32 1172.0,1103.52 1174.0,1103.88 1176.0,1104.41 1178.0,1105.09 1180.0,1105.92 1182.0,1106.90 1184.0,1108.02 1186.0,1109.26 1188.0,1110.62 1190.0,1112.10 1192.0,1113.68 1194.0,1115.35 1196.0,1117.10 1198.0,1118.92 1200.0,1120.80 1202.0,1122.74 1204.0,1124.72 1206.0,1126.73 1208.0,1128.76 1210.0,1130.82 1212.0,1132.88 1214.0,1134.94 1216.0,1136.99 1218.0,1139.03 1220.0,1141.06 1222.0,1143.06 1224.0,1145.03 1226.0,1146.96 1228.0,1148.86 1230.0,1150.72 1232.0,1152.53 1234.0,1154.30 1236.0,1156.02 1238.0,1157.69 1240.0,1159.30 1242.0,1160.87 1244.0,1162.37 1246.0,1163.83 1248.0,1165.22 1250.0,1166.56 1252.0,1167.85 1254.0,1169.08 1256.0,1170.26 1258.0,1171.38 1260.0,1172.45 1262.0,1173.47 1264.0,1174.44 1266.0,1175.36 1268.0,1176.23 1270.0,1177.05 1272.0,1177.83 1274.0,1178.57 1276.0,1179.27 1278.0,1179.93 1280.0,1180.55 1282.0,1181.13 1284.0,1181.68 1286.0,1182.19 1288.0,1182.68 1290.0,1183.13 1292.0,1183.56 1294.0,1183.95 1296.0,1184.33 1298.0,1184.68 1300.0,1185.01 1302.0,1185.32 1304.0,1185.60 1306.0,1185.87 1308.0,1186.12 1310.0,1186.36 1312.0,1186.58 1314.0,1186.78 1316.0,1186.98 1318.0,1187.16 1320.0,1187.33 1322.0,1187.49 1324.0,1187.63 1326.0,1187.77 1328.0,1187.90 1330.0,1188.02 1332.0,1188.14 1334.0,1188.25 1336.0,1188.35 1338.0,1188.44 1340.0,1188.53 1342.0,1188.61 1344.0,1188.69 1346.0,1188.77 1348.0,1188.84 1350.0,1188.90 1352.0,1188.96 1354.0,1189.02 1356.0,1189.08 1358.0,1189.13 1360.0,1189.18 1362.0,1189.23 1364.0,1189.27 1366.0,1189.31 1368.0,1189.35 1370.0,1189.39 1372.0,1189.42 1374.0,1189.45 1376.0,1189.48 1378.0,1189.51 1380.0,1189.54 1382.0,1189.57 1384.0,1189.59 1386.0,1189.62 1388.0,1189.64 1390.0,1189.66 1392.0,1189.68 1394.0,1189.70 1396.0,1189.71 1398.0,1189.73 1400.0,1189.74 1402.0,1189.76 1404.0,1189.77 1406.0,1189.78 1408.0,1189.80 1410.0,1189.81 1412.0,1189.82 1414.0,1189.83 1416.0,1189.84 1418.0,1189.84 1420.0,1189.85 1422.0,1189.86 1424.0,1189.87 1426.0,1189.87 1428.0,1189.88 1430.0,1189.88" fill="none" stroke="#000000" stroke-width="6.7" stroke-linejoin="round"/><g stroke="#000" fill="none"><rect x="184.0" y="47.0" width="1246.0" height="1231.0" stroke-width="4.8"/><line x1="807" y1="45" x2="807" y2="1294" stroke-width="6"/><line x1="184.0" y1="1278" x2="184.0" y2="1292.5" stroke-width="4"/><line x1="170.5" y1="90.5" x2="184.0" y2="90.5" stroke-width="4.4"/><line x1="160.0" y1="310.5" x2="184.0" y2="310.5" stroke-width="4.4"/><line x1="170.5" y1="530.5" x2="184.0" y2="530.5" stroke-width="4.4"/><line x1="160.0" y1="750.6" x2="184.0" y2="750.6" stroke-width="4.4"/><line x1="170.5" y1="970.6" x2="184.0" y2="970.6" stroke-width="4.4"/><line x1="160.0" y1="1190.7" x2="184.0" y2="1190.7" stroke-width="4.4"/><line x1="362.0" y1="1278" x2="362.0" y2="1305.5" stroke-width="4.2"/><line x1="539.0" y1="1278" x2="539.0" y2="1293.0" stroke-width="4.2"/><line x1="717.0" y1="1278" x2="717.0" y2="1305.5" stroke-width="4.2"/><line x1="986.0" y1="1278" x2="986.0" y2="1305.5" stroke-width="4.2"/><line x1="1163.0" y1="1278" x2="1163.0" y2="1293.0" stroke-width="4.2"/><line x1="1341.0" y1="1278" x2="1341.0" y2="1305.5" stroke-width="4.2"/></g><text transform="translate(222.45 152.10) scale(0.7788 1.0000)" font-size="83.50" font-weight="bold" fill="#000">P</text><text transform="translate(267.61 152.10) scale(0.8482 1.0000)" font-size="83.50" font-weight="bold" fill="#000">u</text><text transform="translate(310.82 152.10) scale(0.9057 1.0000)" font-size="83.50" font-weight="bold" fill="#000">r</text><text transform="translate(342.57 152.10) scale(0.8978 1.0000)" font-size="83.50" font-weight="bold" fill="#000">e</text><text transform="translate(838.48 152.10) scale(0.8854 1.0000)" font-size="83.50" font-weight="bold" fill="#000">4</text><g fill="none" stroke="#000"><ellipse cx="895.6" cy="108.6" rx="9.3" ry="11.8" stroke-width="6.4"/><ellipse cx="928.2" cy="137.9" rx="9.1" ry="12.0" stroke-width="6.4"/></g><polygon points="888.5,153.6 896.6,153.6 935.2,93.8 927.1,93.8" fill="#000"/><text transform="translate(1313.00 182.30) scale(0.9000 1.0000)" font-size="48.50" font-weight="normal" fill="#0000B0">300K</text><text transform="translate(1313.00 280.73) scale(0.9000 1.0000)" font-size="48.50" font-weight="normal" fill="#008A00">280K</text><text transform="translate(1313.00 379.16) scale(0.9000 1.0000)" font-size="48.50" font-weight="normal" fill="#FF0088">260K</text><text transform="translate(1313.00 477.59) scale(0.9000 1.0000)" font-size="48.50" font-weight="normal" fill="#A00000">240K</text><text transform="translate(1313.00 576.02) scale(0.9000 1.0000)" font-size="48.50" font-weight="normal" fill="#000090">220K</text><text transform="translate(1313.00 674.45) scale(0.9000 1.0000)" font-size="48.50" font-weight="normal" fill="#878800">200K</text><path transform="translate(1313.00 772.88) scale(0.02131 -0.02368)" d="M763,0 L583,0 L583,1098 C520,1040 440,986 360,943 C300,911 255,898 222,890 L222,1057 C330,1106 420,1163 490,1225 C560,1288 615,1350 646,1409 L763,1409 Z" fill="#FF00FF"/><text transform="translate(1337.28 772.88) scale(0.9000 1.0000)" font-size="48.50" font-weight="normal" fill="#FF00FF">80K</text><path transform="translate(1313.00 871.31) scale(0.02131 -0.02368)" d="M763,0 L583,0 L583,1098 C520,1040 440,986 360,943 C300,911 255,898 222,890 L222,1057 C330,1106 420,1163 490,1225 C560,1288 615,1350 646,1409 L763,1409 Z" fill="#008888"/><text transform="translate(1337.28 871.31) scale(0.9000 1.0000)" font-size="48.50" font-weight="normal" fill="#008888">60K</text><path transform="translate(1313.00 969.74) scale(0.02131 -0.02368)" d="M763,0 L583,0 L583,1098 C520,1040 440,986 360,943 C300,911 255,898 222,890 L222,1057 C330,1106 420,1163 490,1225 C560,1288 615,1350 646,1409 L763,1409 Z" fill="#0000FF"/><text transform="translate(1337.28 969.74) scale(0.9000 1.0000)" font-size="48.50" font-weight="normal" fill="#0000FF">40K</text><path transform="translate(1313.00 1068.17) scale(0.02131 -0.02368)" d="M763,0 L583,0 L583,1098 C520,1040 440,986 360,943 C300,911 255,898 222,890 L222,1057 C330,1106 420,1163 490,1225 C560,1288 615,1350 646,1409 L763,1409 Z" fill="#FF0000"/><text transform="translate(1337.28 1068.17) scale(0.9000 1.0000)" font-size="48.50" font-weight="normal" fill="#FF0000">20K</text><path transform="translate(1313.00 1166.60) scale(0.02131 -0.02368)" d="M763,0 L583,0 L583,1098 C520,1040 440,986 360,943 C300,911 255,898 222,890 L222,1057 C330,1106 420,1163 490,1225 C560,1288 615,1350 646,1409 L763,1409 Z" fill="#000000"/><text transform="translate(1337.28 1166.60) scale(0.9000 1.0000)" font-size="48.50" font-weight="normal" fill="#000000">00K</text><text transform="translate(316.57 1372.00) scale(0.8827 1.0000)" font-size="65.90" font-weight="normal" fill="#000">2</text><text transform="translate(351.17 1372.00) scale(1.0678 1.0000)" font-size="65.90" font-weight="normal" fill="#000">.</text><text transform="translate(368.21 1372.00) scale(0.8727 1.0000)" font-size="65.90" font-weight="normal" fill="#000">2</text><text transform="translate(672.94 1372.00) scale(0.8927 1.0000)" font-size="65.90" font-weight="normal" fill="#000">2</text><text transform="translate(705.38 1372.00) scale(1.0837 1.0000)" font-size="65.90" font-weight="normal" fill="#000">.</text><text transform="translate(725.55 1372.00) scale(0.8281 1.0000)" font-size="65.90" font-weight="normal" fill="#000">4</text><text transform="translate(940.54 1372.00) scale(0.8927 1.0000)" font-size="65.90" font-weight="normal" fill="#000">2</text><text transform="translate(975.38 1372.00) scale(1.0837 1.0000)" font-size="65.90" font-weight="normal" fill="#000">.</text><text transform="translate(992.13 1372.00) scale(0.8960 1.0000)" font-size="65.90" font-weight="normal" fill="#000">2</text><text transform="translate(1297.24 1372.00) scale(0.8927 1.0000)" font-size="65.90" font-weight="normal" fill="#000">2</text><text transform="translate(1329.68 1372.00) scale(1.0837 1.0000)" font-size="65.90" font-weight="normal" fill="#000">.</text><text transform="translate(1349.53 1372.00) scale(0.8402 1.0000)" font-size="65.90" font-weight="normal" fill="#000">4</text><text transform="translate(526.70 1457.10) scale(0.9020 1.0000)" font-size="77.50" font-weight="bold" fill="#000">Photon Energy (eV)</text><text transform="translate(90.60 1207.80) rotate(-90) scale(1.0388 1.0000)" font-size="75.00" font-weight="bold" fill="#000">Normalized PL Intensity (a.u.)</text></svg></div></body></html>
